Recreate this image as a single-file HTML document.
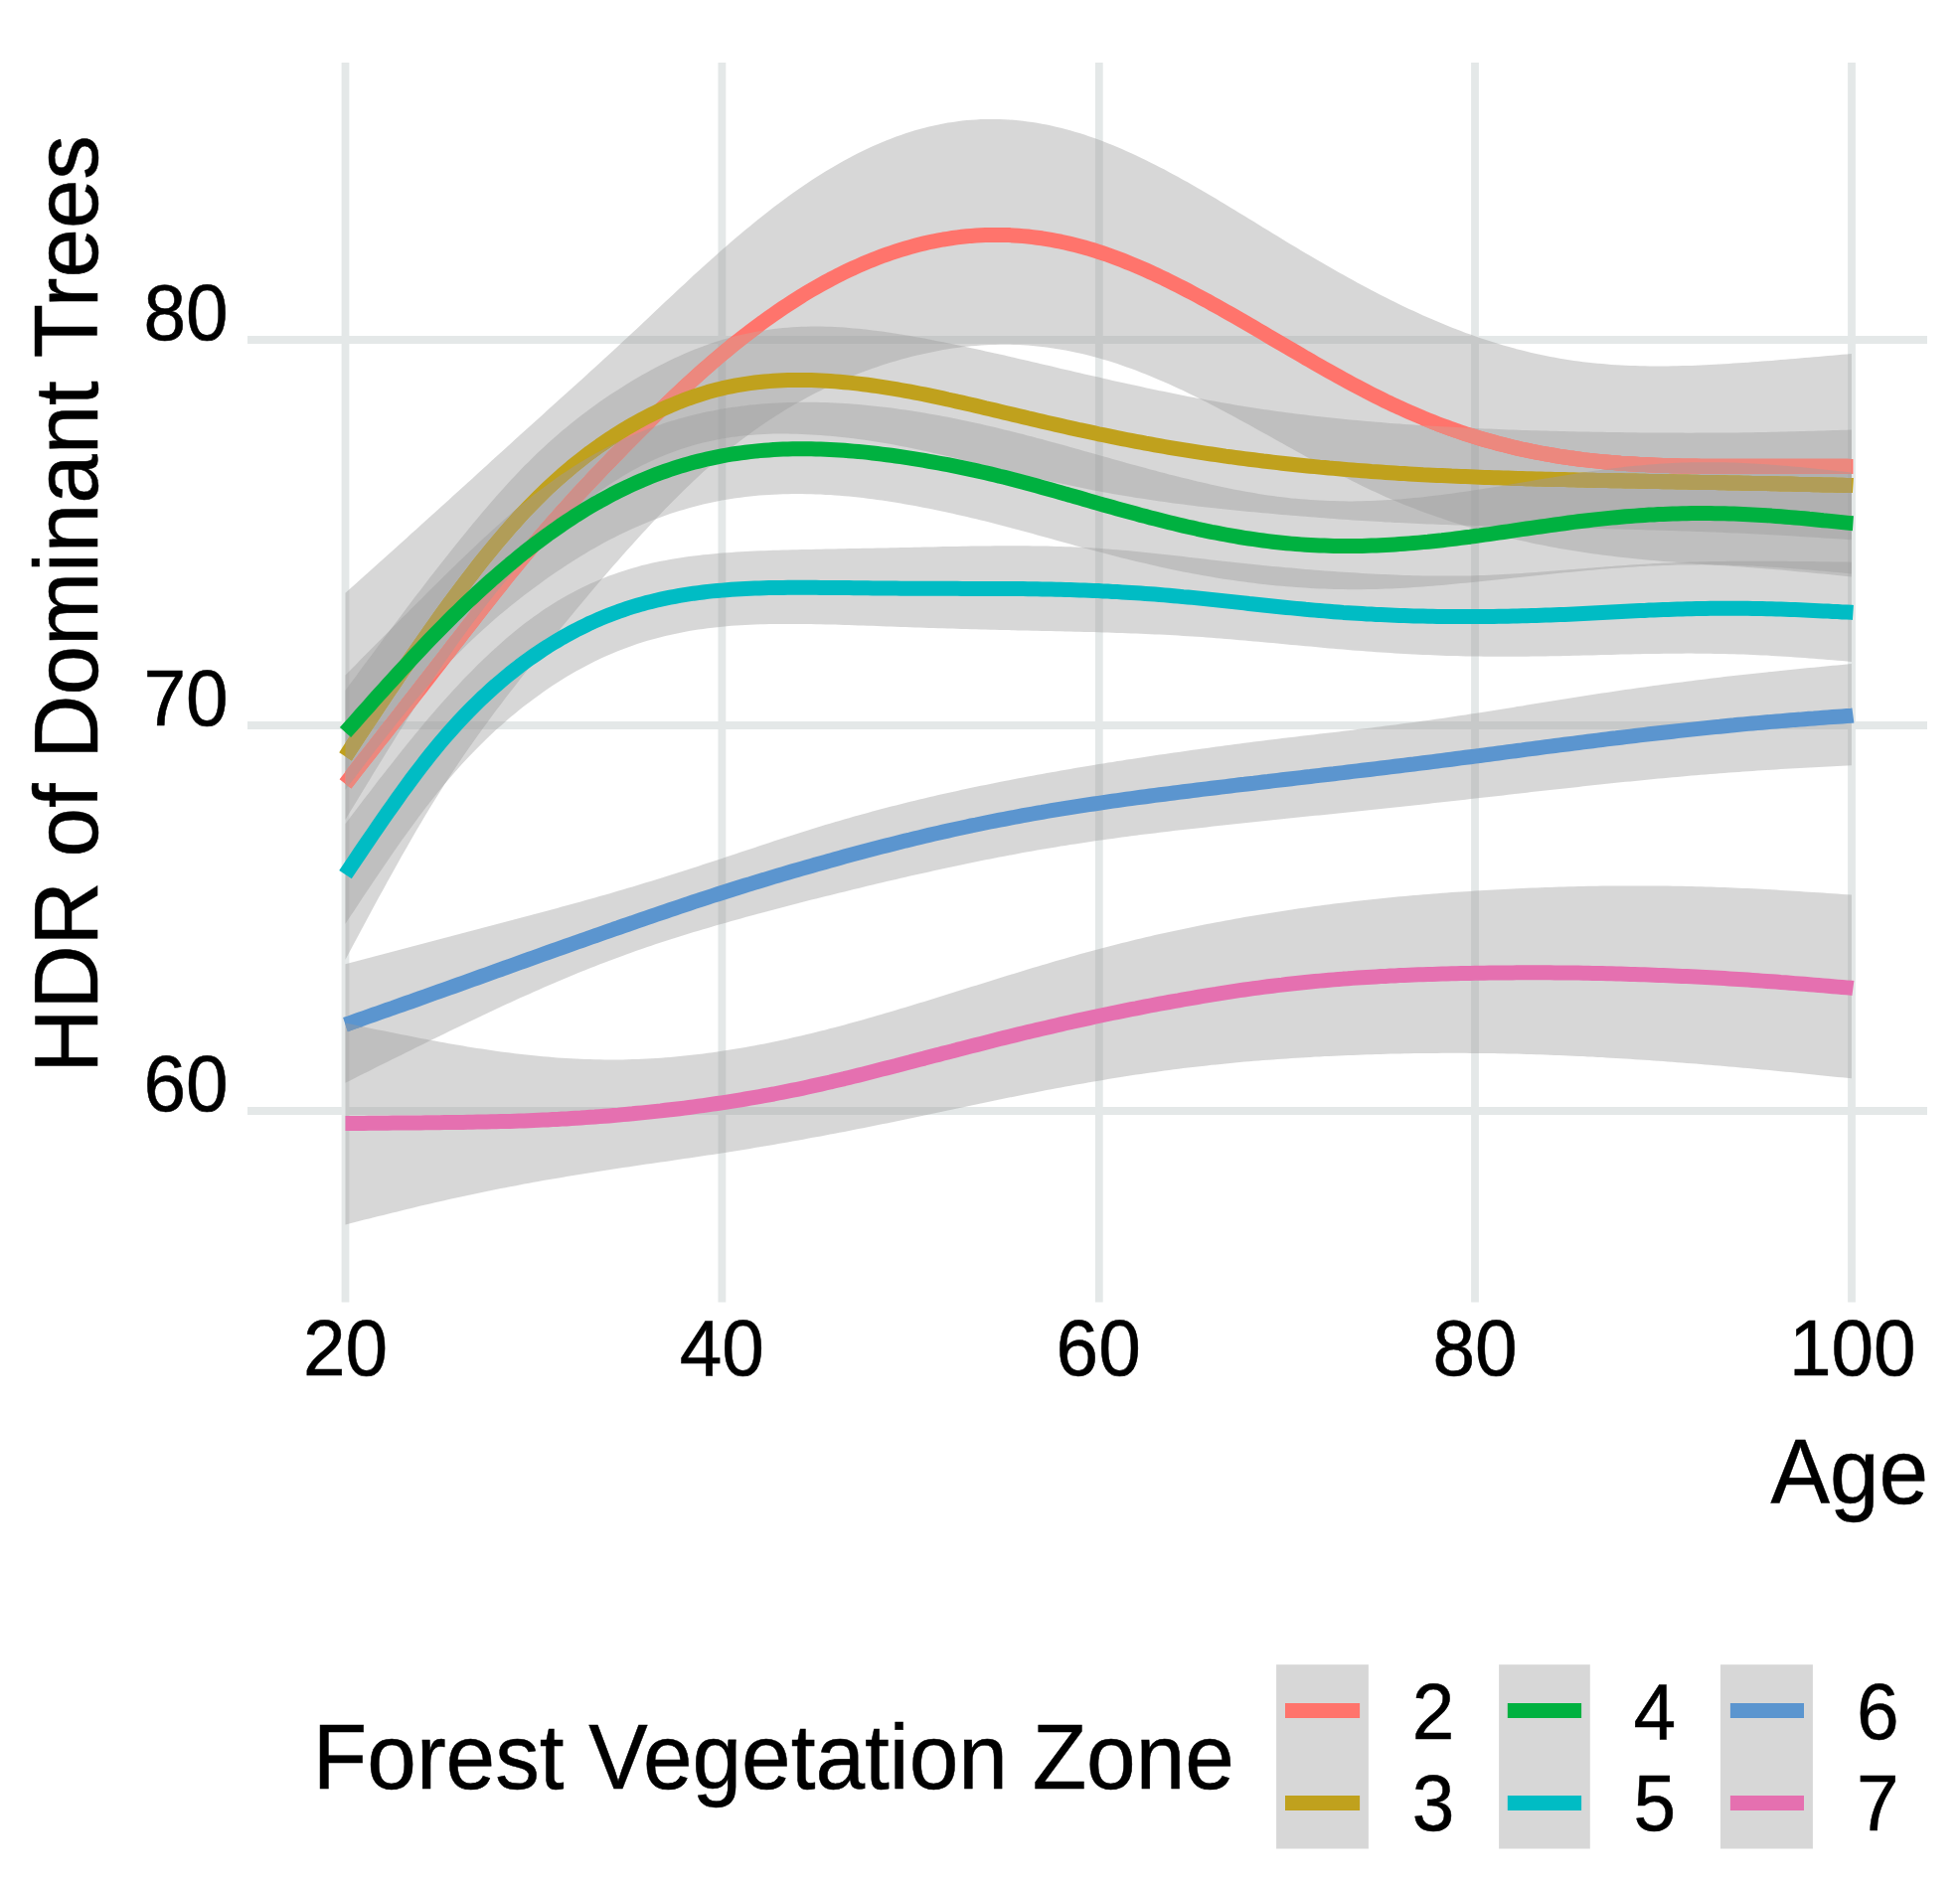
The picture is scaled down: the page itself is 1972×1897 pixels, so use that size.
<!DOCTYPE html>
<html lang="en"><head><meta charset="utf-8"><title>HDR of Dominant Trees by Age</title>
<style>html,body{margin:0;padding:0;background:#fff}svg{display:block}</style></head>
<body>
<svg width="1972" height="1897" viewBox="0 0 1972 1897">
<rect width="1972" height="1897" fill="#fff"/>
<g stroke="#E4E8E8" stroke-width="7.8" fill="none">
<line x1="249" y1="342.0" x2="1939" y2="342.0"/>
<line x1="249" y1="730.0" x2="1939" y2="730.0"/>
<line x1="249" y1="1118.0" x2="1939" y2="1118.0"/>
<line x1="347.5" y1="63" x2="347.5" y2="1310.6"/>
<line x1="726.4" y1="63" x2="726.4" y2="1310.6"/>
<line x1="1105.8" y1="63" x2="1105.8" y2="1310.6"/>
<line x1="1484.0" y1="63" x2="1484.0" y2="1310.6"/>
<line x1="1863.0" y1="63" x2="1863.0" y2="1310.6"/>
</g>
<defs>
<polygon id="Rred" points="347.5,596.7 352.2,592.5 357.0,588.2 361.7,584.0 366.4,579.7 371.2,575.5 375.9,571.2 380.6,567.0 385.4,562.7 390.1,558.5 394.9,554.2 399.6,549.9 404.3,545.7 409.1,541.4 413.8,537.1 418.5,532.9 423.3,528.6 428.0,524.3 432.7,520.0 437.5,515.8 442.2,511.5 446.9,507.2 451.7,502.9 456.4,498.6 461.2,494.3 465.9,490.0 470.6,485.7 475.4,481.4 480.1,477.1 484.8,472.8 489.6,468.5 494.3,464.1 499.0,459.8 503.8,455.5 508.5,451.2 513.2,446.9 518.0,442.6 522.7,438.3 527.4,434.0 532.2,429.7 536.9,425.4 541.7,421.2 546.4,416.9 551.1,412.6 555.9,408.3 560.6,404.1 565.3,399.8 570.1,395.5 574.8,391.2 579.5,386.9 584.3,382.7 589.0,378.4 593.7,374.0 598.5,369.7 603.2,365.4 608.0,361.1 612.7,356.7 617.4,352.4 622.2,348.0 626.9,343.6 631.6,339.2 636.4,334.8 641.1,330.4 645.8,325.9 650.6,321.5 655.3,317.0 660.0,312.6 664.8,308.1 669.5,303.6 674.2,299.2 679.0,294.7 683.7,290.3 688.5,285.9 693.2,281.5 697.9,277.1 702.7,272.8 707.4,268.5 712.1,264.2 716.9,259.9 721.6,255.7 726.3,251.5 731.1,247.4 735.8,243.3 740.5,239.2 745.3,235.2 750.0,231.3 754.8,227.4 759.5,223.5 764.2,219.7 769.0,215.9 773.7,212.2 778.4,208.6 783.2,205.0 787.9,201.5 792.6,198.0 797.4,194.6 802.1,191.3 806.8,188.0 811.6,184.8 816.3,181.6 821.0,178.6 825.8,175.6 830.5,172.6 835.3,169.8 840.0,167.0 844.7,164.3 849.5,161.6 854.2,159.0 858.9,156.5 863.7,154.1 868.4,151.8 873.1,149.5 877.9,147.3 882.6,145.2 887.3,143.2 892.1,141.3 896.8,139.4 901.6,137.6 906.3,135.9 911.0,134.3 915.8,132.8 920.5,131.3 925.2,130.0 930.0,128.7 934.7,127.5 939.4,126.4 944.2,125.4 948.9,124.5 953.6,123.6 958.4,122.9 963.1,122.2 967.9,121.6 972.6,121.1 977.3,120.7 982.1,120.4 986.8,120.1 991.5,120.0 996.3,119.9 1001.0,119.9 1005.7,120.0 1010.5,120.2 1015.2,120.5 1019.9,120.8 1024.7,121.3 1029.4,121.8 1034.1,122.4 1038.9,123.1 1043.6,123.8 1048.4,124.7 1053.1,125.6 1057.8,126.6 1062.6,127.7 1067.3,128.8 1072.0,130.0 1076.8,131.3 1081.5,132.7 1086.2,134.1 1091.0,135.6 1095.7,137.2 1100.4,138.8 1105.2,140.6 1109.9,142.3 1114.7,144.2 1119.4,146.1 1124.1,148.0 1128.9,150.1 1133.6,152.2 1138.3,154.3 1143.1,156.5 1147.8,158.7 1152.5,161.0 1157.3,163.4 1162.0,165.7 1166.7,168.2 1171.5,170.6 1176.2,173.2 1180.9,175.7 1185.7,178.3 1190.4,180.9 1195.2,183.6 1199.9,186.3 1204.6,189.0 1209.4,191.7 1214.1,194.5 1218.8,197.3 1223.6,200.1 1228.3,202.9 1233.0,205.8 1237.8,208.7 1242.5,211.5 1247.2,214.4 1252.0,217.3 1256.7,220.2 1261.5,223.1 1266.2,226.0 1270.9,228.9 1275.7,231.8 1280.4,234.7 1285.1,237.6 1289.9,240.5 1294.6,243.4 1299.3,246.2 1304.1,249.1 1308.8,251.9 1313.5,254.7 1318.3,257.5 1323.0,260.3 1327.7,263.1 1332.5,265.8 1337.2,268.5 1342.0,271.2 1346.7,273.9 1351.4,276.6 1356.2,279.2 1360.9,281.8 1365.6,284.4 1370.4,287.0 1375.1,289.5 1379.8,292.0 1384.6,294.5 1389.3,296.9 1394.0,299.3 1398.8,301.7 1403.5,304.1 1408.3,306.4 1413.0,308.7 1417.7,310.9 1422.5,313.1 1427.2,315.3 1431.9,317.4 1436.7,319.5 1441.4,321.6 1446.1,323.6 1450.9,325.6 1455.6,327.6 1460.3,329.5 1465.1,331.3 1469.8,333.1 1474.5,334.9 1479.3,336.6 1484.0,338.3 1488.8,340.0 1493.5,341.6 1498.2,343.1 1503.0,344.6 1507.7,346.1 1512.4,347.5 1517.2,348.8 1521.9,350.1 1526.6,351.4 1531.4,352.6 1536.1,353.8 1540.8,354.9 1545.6,356.0 1550.3,357.0 1555.1,358.0 1559.8,358.9 1564.5,359.8 1569.3,360.7 1574.0,361.5 1578.7,362.2 1583.5,362.9 1588.2,363.5 1592.9,364.2 1597.7,364.7 1602.4,365.2 1607.1,365.7 1611.9,366.1 1616.6,366.5 1621.3,366.9 1626.1,367.2 1630.8,367.5 1635.6,367.7 1640.3,367.9 1645.0,368.1 1649.8,368.2 1654.5,368.3 1659.2,368.4 1664.0,368.4 1668.7,368.5 1673.4,368.4 1678.2,368.4 1682.9,368.3 1687.6,368.3 1692.4,368.1 1697.1,368.0 1701.9,367.9 1706.6,367.7 1711.3,367.5 1716.1,367.3 1720.8,367.0 1725.5,366.8 1730.3,366.5 1735.0,366.2 1739.7,365.9 1744.5,365.6 1749.2,365.3 1753.9,365.0 1758.7,364.7 1763.4,364.3 1768.2,364.0 1772.9,363.6 1777.6,363.2 1782.4,362.9 1787.1,362.5 1791.8,362.1 1796.6,361.7 1801.3,361.3 1806.0,360.9 1810.8,360.5 1815.5,360.1 1820.2,359.7 1825.0,359.3 1829.7,358.9 1834.4,358.5 1839.2,358.1 1843.9,357.7 1848.7,357.3 1853.4,356.8 1858.1,356.4 1862.9,356.0 1862.9,580.5 1858.1,580.0 1853.4,579.5 1848.7,579.1 1843.9,578.6 1839.2,578.1 1834.4,577.6 1829.7,577.2 1825.0,576.7 1820.2,576.3 1815.5,575.8 1810.8,575.4 1806.0,574.9 1801.3,574.5 1796.6,574.1 1791.8,573.6 1787.1,573.2 1782.4,572.8 1777.6,572.4 1772.9,572.0 1768.2,571.7 1763.4,571.3 1758.7,571.0 1753.9,570.6 1749.2,570.3 1744.5,569.9 1739.7,569.6 1735.0,569.3 1730.3,569.0 1725.5,568.7 1720.8,568.3 1716.1,568.0 1711.3,567.7 1706.6,567.4 1701.9,567.0 1697.1,566.7 1692.4,566.4 1687.6,566.0 1682.9,565.6 1678.2,565.3 1673.4,564.9 1668.7,564.5 1664.0,564.1 1659.2,563.7 1654.5,563.2 1649.8,562.8 1645.0,562.3 1640.3,561.8 1635.6,561.3 1630.8,560.8 1626.1,560.2 1621.3,559.6 1616.6,559.1 1611.9,558.5 1607.1,557.8 1602.4,557.2 1597.7,556.5 1592.9,555.8 1588.2,555.1 1583.5,554.3 1578.7,553.5 1574.0,552.7 1569.3,551.9 1564.5,551.1 1559.8,550.2 1555.1,549.3 1550.3,548.3 1545.6,547.4 1540.8,546.4 1536.1,545.3 1531.4,544.3 1526.6,543.2 1521.9,542.1 1517.2,541.0 1512.4,539.8 1507.7,538.6 1503.0,537.4 1498.2,536.1 1493.5,534.8 1488.8,533.5 1484.0,532.2 1479.3,530.8 1474.5,529.4 1469.8,527.9 1465.1,526.5 1460.3,525.0 1455.6,523.4 1450.9,521.8 1446.1,520.2 1441.4,518.6 1436.7,516.9 1431.9,515.2 1427.2,513.4 1422.5,511.6 1417.7,509.7 1413.0,507.9 1408.3,505.9 1403.5,504.0 1398.8,501.9 1394.0,499.9 1389.3,497.8 1384.6,495.6 1379.8,493.4 1375.1,491.2 1370.4,488.9 1365.6,486.6 1360.9,484.2 1356.2,481.8 1351.4,479.4 1346.7,477.0 1342.0,474.5 1337.2,472.0 1332.5,469.5 1327.7,466.9 1323.0,464.4 1318.3,461.8 1313.5,459.2 1308.8,456.6 1304.1,454.0 1299.3,451.3 1294.6,448.7 1289.9,446.1 1285.1,443.4 1280.4,440.8 1275.7,438.1 1270.9,435.5 1266.2,432.9 1261.5,430.2 1256.7,427.6 1252.0,425.0 1247.2,422.4 1242.5,419.8 1237.8,417.3 1233.0,414.7 1228.3,412.2 1223.6,409.7 1218.8,407.3 1214.1,404.8 1209.4,402.4 1204.6,400.0 1199.9,397.7 1195.2,395.4 1190.4,393.1 1185.7,390.9 1180.9,388.7 1176.2,386.6 1171.5,384.5 1166.7,382.4 1162.0,380.4 1157.3,378.4 1152.5,376.5 1147.8,374.7 1143.1,372.8 1138.3,371.1 1133.6,369.4 1128.9,367.7 1124.1,366.1 1119.4,364.6 1114.7,363.1 1109.9,361.7 1105.2,360.3 1100.4,359.0 1095.7,357.8 1091.0,356.6 1086.2,355.5 1081.5,354.5 1076.8,353.5 1072.0,352.6 1067.3,351.7 1062.6,351.0 1057.8,350.2 1053.1,349.6 1048.4,349.0 1043.6,348.5 1038.9,348.0 1034.1,347.6 1029.4,347.3 1024.7,347.1 1019.9,346.9 1015.2,346.8 1010.5,346.7 1005.7,346.8 1001.0,346.9 996.3,347.0 991.5,347.2 986.8,347.5 982.1,347.9 977.3,348.3 972.6,348.8 967.9,349.3 963.1,349.9 958.4,350.6 953.6,351.3 948.9,352.1 944.2,353.0 939.4,353.9 934.7,354.9 930.0,355.9 925.2,357.0 920.5,358.1 915.8,359.3 911.0,360.5 906.3,361.8 901.6,363.2 896.8,364.6 892.1,366.1 887.3,367.6 882.6,369.2 877.9,370.8 873.1,372.5 868.4,374.3 863.7,376.1 858.9,378.0 854.2,380.0 849.5,382.0 844.7,384.0 840.0,386.2 835.3,388.4 830.5,390.6 825.8,392.9 821.0,395.3 816.3,397.8 811.6,400.3 806.8,402.9 802.1,405.6 797.4,408.3 792.6,411.1 787.9,414.0 783.2,416.9 778.4,419.9 773.7,423.0 769.0,426.2 764.2,429.5 759.5,432.8 754.8,436.2 750.0,439.7 745.3,443.3 740.5,447.0 735.8,450.7 731.1,454.6 726.3,458.5 721.6,462.5 716.9,466.7 712.1,470.9 707.4,475.1 702.7,479.5 697.9,484.0 693.2,488.5 688.5,493.1 683.7,497.7 679.0,502.5 674.2,507.3 669.5,512.1 664.8,517.0 660.0,522.0 655.3,527.1 650.6,532.2 645.8,537.3 641.1,542.5 636.4,547.7 631.6,553.0 626.9,558.3 622.2,563.7 617.4,569.1 612.7,574.6 608.0,580.1 603.2,585.6 598.5,591.1 593.7,596.7 589.0,602.4 584.3,608.0 579.5,613.7 574.8,619.5 570.1,625.2 565.3,631.0 560.6,636.8 555.9,642.7 551.1,648.5 546.4,654.4 541.7,660.3 536.9,666.3 532.2,672.3 527.4,678.3 522.7,684.3 518.0,690.4 513.2,696.5 508.5,702.6 503.8,708.9 499.0,715.1 494.3,721.5 489.6,727.9 484.8,734.4 480.1,741.0 475.4,747.7 470.6,754.5 465.9,761.3 461.2,768.3 456.4,775.4 451.7,782.6 446.9,789.9 442.2,797.4 437.5,805.0 432.7,812.7 428.0,820.5 423.3,828.5 418.5,836.6 413.8,844.7 409.1,853.0 404.3,861.3 399.6,869.7 394.9,878.2 390.1,886.8 385.4,895.4 380.6,904.1 375.9,912.8 371.2,921.6 366.4,930.4 361.7,939.2 357.0,948.1 352.2,956.9 347.5,965.8"/>
<polyline id="Lred" points="347.5,788.8 352.2,782.8 357.0,776.7 361.7,770.7 366.4,764.7 371.2,758.6 375.9,752.6 380.6,746.5 385.4,740.5 390.1,734.4 394.9,728.4 399.6,722.3 404.3,716.3 409.1,710.2 413.8,704.1 418.5,698.1 423.3,692.0 428.0,685.9 432.7,679.8 437.5,673.7 442.2,667.6 446.9,661.5 451.7,655.3 456.4,649.2 461.2,643.1 465.9,637.0 470.6,630.9 475.4,624.8 480.1,618.7 484.8,612.6 489.6,606.6 494.3,600.6 499.0,594.6 503.8,588.7 508.5,582.7 513.2,576.9 518.0,571.0 522.7,565.2 527.4,559.5 532.2,553.8 536.9,548.2 541.7,542.6 546.4,537.1 551.1,531.6 555.9,526.2 560.6,520.8 565.3,515.5 570.1,510.2 574.8,505.0 579.5,499.8 584.3,494.7 589.0,489.6 593.7,484.6 598.5,479.5 603.2,474.6 608.0,469.6 612.7,464.7 617.4,459.8 622.2,454.9 626.9,450.1 631.6,445.3 636.4,440.5 641.1,435.8 645.8,431.0 650.6,426.3 655.3,421.7 660.0,417.0 664.8,412.4 669.5,407.8 674.2,403.3 679.0,398.8 683.7,394.3 688.5,389.9 693.2,385.5 697.9,381.2 702.7,376.9 707.4,372.7 712.1,368.6 716.9,364.4 721.6,360.4 726.3,356.4 731.1,352.4 735.8,348.5 740.5,344.7 745.3,340.9 750.0,337.2 754.8,333.6 759.5,330.0 764.2,326.5 769.0,323.0 773.7,319.6 778.4,316.3 783.2,313.0 787.9,309.8 792.6,306.7 797.4,303.6 802.1,300.6 806.8,297.6 811.6,294.7 816.3,291.9 821.0,289.2 825.8,286.5 830.5,283.9 835.3,281.3 840.0,278.9 844.7,276.4 849.5,274.1 854.2,271.8 858.9,269.6 863.7,267.5 868.4,265.4 873.1,263.4 877.9,261.5 882.6,259.6 887.3,257.8 892.1,256.1 896.8,254.5 901.6,252.9 906.3,251.4 911.0,250.0 915.8,248.6 920.5,247.3 925.2,246.1 930.0,244.9 934.7,243.8 939.4,242.8 944.2,241.9 948.9,241.0 953.6,240.3 958.4,239.5 963.1,238.9 967.9,238.3 972.6,237.8 977.3,237.4 982.1,237.1 986.8,236.8 991.5,236.6 996.3,236.4 1001.0,236.4 1005.7,236.4 1010.5,236.5 1015.2,236.6 1019.9,236.9 1024.7,237.2 1029.4,237.6 1034.1,238.0 1038.9,238.6 1043.6,239.2 1048.4,239.8 1053.1,240.6 1057.8,241.4 1062.6,242.3 1067.3,243.2 1072.0,244.3 1076.8,245.4 1081.5,246.5 1086.2,247.7 1091.0,249.0 1095.7,250.4 1100.4,251.8 1105.2,253.3 1109.9,254.9 1114.7,256.5 1119.4,258.2 1124.1,260.0 1128.9,261.8 1133.6,263.7 1138.3,265.6 1143.1,267.6 1147.8,269.6 1152.5,271.7 1157.3,273.9 1162.0,276.0 1166.7,278.3 1171.5,280.5 1176.2,282.9 1180.9,285.2 1185.7,287.6 1190.4,290.0 1195.2,292.5 1199.9,295.0 1204.6,297.5 1209.4,300.1 1214.1,302.6 1218.8,305.3 1223.6,307.9 1228.3,310.5 1233.0,313.2 1237.8,315.9 1242.5,318.6 1247.2,321.3 1252.0,324.1 1256.7,326.8 1261.5,329.6 1266.2,332.4 1270.9,335.1 1275.7,337.9 1280.4,340.7 1285.1,343.5 1289.9,346.3 1294.6,349.0 1299.3,351.8 1304.1,354.6 1308.8,357.3 1313.5,360.1 1318.3,362.8 1323.0,365.6 1327.7,368.3 1332.5,371.0 1337.2,373.6 1342.0,376.3 1346.7,378.9 1351.4,381.5 1356.2,384.1 1360.9,386.7 1365.6,389.2 1370.4,391.7 1375.1,394.2 1379.8,396.6 1384.6,399.0 1389.3,401.3 1394.0,403.7 1398.8,405.9 1403.5,408.2 1408.3,410.3 1413.0,412.5 1417.7,414.6 1422.5,416.7 1427.2,418.7 1431.9,420.7 1436.7,422.6 1441.4,424.5 1446.1,426.4 1450.9,428.2 1455.6,429.9 1460.3,431.7 1465.1,433.3 1469.8,435.0 1474.5,436.6 1479.3,438.1 1484.0,439.6 1488.8,441.1 1493.5,442.5 1498.2,443.8 1503.0,445.1 1507.7,446.4 1512.4,447.6 1517.2,448.8 1521.9,450.0 1526.6,451.1 1531.4,452.2 1536.1,453.2 1540.8,454.2 1545.6,455.1 1550.3,456.0 1555.1,456.9 1559.8,457.7 1564.5,458.5 1569.3,459.3 1574.0,460.0 1578.7,460.7 1583.5,461.3 1588.2,462.0 1592.9,462.6 1597.7,463.1 1602.4,463.6 1607.1,464.1 1611.9,464.6 1616.6,465.0 1621.3,465.4 1626.1,465.8 1630.8,466.2 1635.6,466.5 1640.3,466.8 1645.0,467.1 1649.8,467.4 1654.5,467.6 1659.2,467.8 1664.0,468.0 1668.7,468.2 1673.4,468.4 1678.2,468.5 1682.9,468.7 1687.6,468.8 1692.4,468.9 1697.1,469.0 1701.9,469.0 1706.6,469.1 1711.3,469.2 1716.1,469.2 1720.8,469.2 1725.5,469.3 1730.3,469.3 1735.0,469.3 1739.7,469.3 1744.5,469.3 1749.2,469.3 1753.9,469.3 1758.7,469.3 1763.4,469.3 1768.2,469.3 1772.9,469.3 1777.6,469.3 1782.4,469.3 1787.1,469.3 1791.8,469.3 1796.6,469.3 1801.3,469.3 1806.0,469.3 1810.8,469.3 1815.5,469.3 1820.2,469.3 1825.0,469.3 1829.7,469.3 1834.4,469.3 1839.2,469.3 1843.9,469.3 1848.7,469.3 1853.4,469.3 1858.1,469.3 1862.9,469.4 1864.4,469.4" fill="none" stroke-width="15" stroke-linejoin="round"/>
<clipPath id="cred"><use href="#Rred"/></clipPath>
<polygon id="Rgold" points="347.5,694.7 352.2,688.3 357.0,681.9 361.7,675.5 366.4,669.1 371.2,662.7 375.9,656.4 380.6,650.0 385.4,643.6 390.1,637.3 394.9,631.0 399.6,624.7 404.3,618.4 409.1,612.1 413.8,605.8 418.5,599.6 423.3,593.4 428.0,587.3 432.7,581.1 437.5,575.0 442.2,568.9 446.9,562.9 451.7,556.9 456.4,550.9 461.2,545.0 465.9,539.2 470.6,533.4 475.4,527.6 480.1,521.9 484.8,516.3 489.6,510.7 494.3,505.2 499.0,499.8 503.8,494.5 508.5,489.2 513.2,484.1 518.0,479.0 522.7,474.0 527.4,469.1 532.2,464.4 536.9,459.7 541.7,455.1 546.4,450.7 551.1,446.3 555.9,442.0 560.6,437.9 565.3,433.8 570.1,429.9 574.8,426.0 579.5,422.2 584.3,418.5 589.0,414.9 593.7,411.4 598.5,408.0 603.2,404.6 608.0,401.3 612.7,398.1 617.4,395.0 622.2,391.9 626.9,388.9 631.6,386.0 636.4,383.1 641.1,380.3 645.8,377.6 650.6,374.9 655.3,372.3 660.0,369.8 664.8,367.3 669.5,364.9 674.2,362.6 679.0,360.3 683.7,358.2 688.5,356.1 693.2,354.0 697.9,352.1 702.7,350.2 707.4,348.4 712.1,346.7 716.9,345.1 721.6,343.5 726.3,342.0 731.1,340.7 735.8,339.4 740.5,338.1 745.3,337.0 750.0,335.9 754.8,334.9 759.5,334.0 764.2,333.2 769.0,332.4 773.7,331.7 778.4,331.1 783.2,330.6 787.9,330.1 792.6,329.7 797.4,329.3 802.1,329.0 806.8,328.8 811.6,328.7 816.3,328.6 821.0,328.6 825.8,328.6 830.5,328.7 835.3,328.8 840.0,329.0 844.7,329.3 849.5,329.6 854.2,330.0 858.9,330.4 863.7,330.8 868.4,331.3 873.1,331.8 877.9,332.4 882.6,333.0 887.3,333.6 892.1,334.3 896.8,335.0 901.6,335.7 906.3,336.5 911.0,337.3 915.8,338.1 920.5,338.9 925.2,339.8 930.0,340.6 934.7,341.5 939.4,342.4 944.2,343.4 948.9,344.3 953.6,345.3 958.4,346.2 963.1,347.2 967.9,348.2 972.6,349.2 977.3,350.2 982.1,351.3 986.8,352.3 991.5,353.4 996.3,354.4 1001.0,355.5 1005.7,356.6 1010.5,357.6 1015.2,358.7 1019.9,359.8 1024.7,360.9 1029.4,362.0 1034.1,363.1 1038.9,364.2 1043.6,365.3 1048.4,366.4 1053.1,367.5 1057.8,368.6 1062.6,369.8 1067.3,370.9 1072.0,372.0 1076.8,373.1 1081.5,374.2 1086.2,375.3 1091.0,376.4 1095.7,377.5 1100.4,378.6 1105.2,379.6 1109.9,380.7 1114.7,381.8 1119.4,382.9 1124.1,383.9 1128.9,385.0 1133.6,386.0 1138.3,387.1 1143.1,388.1 1147.8,389.1 1152.5,390.2 1157.3,391.2 1162.0,392.2 1166.7,393.2 1171.5,394.1 1176.2,395.1 1180.9,396.1 1185.7,397.0 1190.4,397.9 1195.2,398.9 1199.9,399.8 1204.6,400.7 1209.4,401.6 1214.1,402.4 1218.8,403.3 1223.6,404.1 1228.3,405.0 1233.0,405.8 1237.8,406.6 1242.5,407.4 1247.2,408.2 1252.0,409.0 1256.7,409.7 1261.5,410.4 1266.2,411.2 1270.9,411.9 1275.7,412.6 1280.4,413.3 1285.1,413.9 1289.9,414.6 1294.6,415.2 1299.3,415.8 1304.1,416.4 1308.8,417.0 1313.5,417.6 1318.3,418.2 1323.0,418.7 1327.7,419.3 1332.5,419.8 1337.2,420.3 1342.0,420.8 1346.7,421.3 1351.4,421.7 1356.2,422.2 1360.9,422.7 1365.6,423.1 1370.4,423.5 1375.1,423.9 1379.8,424.3 1384.6,424.7 1389.3,425.1 1394.0,425.5 1398.8,425.9 1403.5,426.2 1408.3,426.6 1413.0,426.9 1417.7,427.2 1422.5,427.6 1427.2,427.9 1431.9,428.2 1436.7,428.5 1441.4,428.8 1446.1,429.0 1450.9,429.3 1455.6,429.6 1460.3,429.8 1465.1,430.1 1469.8,430.3 1474.5,430.6 1479.3,430.8 1484.0,431.0 1488.8,431.2 1493.5,431.4 1498.2,431.6 1503.0,431.8 1507.7,432.0 1512.4,432.2 1517.2,432.4 1521.9,432.5 1526.6,432.7 1531.4,432.9 1536.1,433.0 1540.8,433.2 1545.6,433.3 1550.3,433.4 1555.1,433.6 1559.8,433.7 1564.5,433.8 1569.3,433.9 1574.0,434.1 1578.7,434.2 1583.5,434.3 1588.2,434.4 1592.9,434.5 1597.7,434.6 1602.4,434.7 1607.1,434.8 1611.9,434.8 1616.6,434.9 1621.3,435.0 1626.1,435.1 1630.8,435.1 1635.6,435.2 1640.3,435.3 1645.0,435.3 1649.8,435.4 1654.5,435.4 1659.2,435.5 1664.0,435.5 1668.7,435.5 1673.4,435.6 1678.2,435.6 1682.9,435.6 1687.6,435.6 1692.4,435.6 1697.1,435.7 1701.9,435.7 1706.6,435.6 1711.3,435.6 1716.1,435.6 1720.8,435.6 1725.5,435.6 1730.3,435.5 1735.0,435.5 1739.7,435.5 1744.5,435.4 1749.2,435.4 1753.9,435.3 1758.7,435.2 1763.4,435.2 1768.2,435.1 1772.9,435.0 1777.6,434.9 1782.4,434.8 1787.1,434.7 1791.8,434.6 1796.6,434.5 1801.3,434.3 1806.0,434.2 1810.8,434.1 1815.5,434.0 1820.2,433.8 1825.0,433.7 1829.7,433.6 1834.4,433.4 1839.2,433.3 1843.9,433.1 1848.7,433.0 1853.4,432.8 1858.1,432.7 1862.9,432.5 1862.9,543.2 1858.1,542.9 1853.4,542.6 1848.7,542.3 1843.9,542.0 1839.2,541.7 1834.4,541.4 1829.7,541.1 1825.0,540.8 1820.2,540.5 1815.5,540.2 1810.8,539.9 1806.0,539.6 1801.3,539.3 1796.6,539.1 1791.8,538.8 1787.1,538.5 1782.4,538.3 1777.6,538.0 1772.9,537.8 1768.2,537.5 1763.4,537.3 1758.7,537.1 1753.9,536.8 1749.2,536.6 1744.5,536.4 1739.7,536.2 1735.0,536.0 1730.3,535.8 1725.5,535.6 1720.8,535.5 1716.1,535.3 1711.3,535.1 1706.6,534.9 1701.9,534.8 1697.1,534.6 1692.4,534.4 1687.6,534.3 1682.9,534.1 1678.2,534.0 1673.4,533.8 1668.7,533.7 1664.0,533.5 1659.2,533.4 1654.5,533.2 1649.8,533.1 1645.0,533.0 1640.3,532.8 1635.6,532.7 1630.8,532.6 1626.1,532.4 1621.3,532.3 1616.6,532.2 1611.9,532.1 1607.1,531.9 1602.4,531.8 1597.7,531.7 1592.9,531.6 1588.2,531.5 1583.5,531.4 1578.7,531.2 1574.0,531.1 1569.3,531.0 1564.5,530.9 1559.8,530.8 1555.1,530.7 1550.3,530.6 1545.6,530.5 1540.8,530.4 1536.1,530.3 1531.4,530.2 1526.6,530.1 1521.9,529.9 1517.2,529.8 1512.4,529.7 1507.7,529.6 1503.0,529.5 1498.2,529.4 1493.5,529.2 1488.8,529.1 1484.0,529.0 1479.3,528.8 1474.5,528.7 1469.8,528.5 1465.1,528.4 1460.3,528.2 1455.6,528.1 1450.9,527.9 1446.1,527.7 1441.4,527.6 1436.7,527.4 1431.9,527.2 1427.2,527.0 1422.5,526.8 1417.7,526.6 1413.0,526.3 1408.3,526.1 1403.5,525.9 1398.8,525.6 1394.0,525.4 1389.3,525.1 1384.6,524.8 1379.8,524.6 1375.1,524.3 1370.4,524.0 1365.6,523.7 1360.9,523.4 1356.2,523.0 1351.4,522.7 1346.7,522.4 1342.0,522.0 1337.2,521.7 1332.5,521.3 1327.7,521.0 1323.0,520.6 1318.3,520.2 1313.5,519.8 1308.8,519.5 1304.1,519.1 1299.3,518.7 1294.6,518.3 1289.9,517.9 1285.1,517.5 1280.4,517.1 1275.7,516.6 1270.9,516.2 1266.2,515.8 1261.5,515.3 1256.7,514.9 1252.0,514.4 1247.2,514.0 1242.5,513.5 1237.8,513.0 1233.0,512.5 1228.3,512.0 1223.6,511.5 1218.8,511.0 1214.1,510.5 1209.4,509.9 1204.6,509.4 1199.9,508.8 1195.2,508.2 1190.4,507.6 1185.7,507.0 1180.9,506.4 1176.2,505.8 1171.5,505.1 1166.7,504.4 1162.0,503.8 1157.3,503.1 1152.5,502.3 1147.8,501.6 1143.1,500.9 1138.3,500.1 1133.6,499.3 1128.9,498.5 1124.1,497.7 1119.4,496.9 1114.7,496.0 1109.9,495.2 1105.2,494.3 1100.4,493.4 1095.7,492.4 1091.0,491.5 1086.2,490.5 1081.5,489.6 1076.8,488.6 1072.0,487.6 1067.3,486.5 1062.6,485.5 1057.8,484.5 1053.1,483.4 1048.4,482.3 1043.6,481.2 1038.9,480.1 1034.1,479.0 1029.4,477.9 1024.7,476.8 1019.9,475.6 1015.2,474.5 1010.5,473.3 1005.7,472.1 1001.0,470.9 996.3,469.8 991.5,468.6 986.8,467.4 982.1,466.2 977.3,465.0 972.6,463.8 967.9,462.7 963.1,461.5 958.4,460.3 953.6,459.2 948.9,458.1 944.2,457.0 939.4,455.9 934.7,454.8 930.0,453.7 925.2,452.7 920.5,451.7 915.8,450.7 911.0,449.8 906.3,448.9 901.6,448.0 896.8,447.1 892.1,446.3 887.3,445.5 882.6,444.7 877.9,444.0 873.1,443.3 868.4,442.6 863.7,442.0 858.9,441.3 854.2,440.8 849.5,440.2 844.7,439.7 840.0,439.3 835.3,438.8 830.5,438.4 825.8,438.0 821.0,437.7 816.3,437.4 811.6,437.2 806.8,437.0 802.1,436.8 797.4,436.7 792.6,436.6 787.9,436.5 783.2,436.6 778.4,436.6 773.7,436.8 769.0,437.0 764.2,437.2 759.5,437.5 754.8,437.9 750.0,438.3 745.3,438.8 740.5,439.4 735.8,440.1 731.1,440.8 726.3,441.6 721.6,442.5 716.9,443.4 712.1,444.5 707.4,445.6 702.7,446.8 697.9,448.1 693.2,449.5 688.5,451.0 683.7,452.5 679.0,454.2 674.2,455.9 669.5,457.8 664.8,459.7 660.0,461.8 655.3,463.9 650.6,466.2 645.8,468.5 641.1,471.0 636.4,473.5 631.6,476.2 626.9,479.0 622.2,481.9 617.4,484.9 612.7,488.0 608.0,491.2 603.2,494.5 598.5,498.0 593.7,501.5 589.0,505.2 584.3,509.0 579.5,512.9 574.8,516.9 570.1,521.0 565.3,525.2 560.6,529.6 555.9,534.0 551.1,538.6 546.4,543.3 541.7,548.1 536.9,553.1 532.2,558.1 527.4,563.3 522.7,568.6 518.0,574.0 513.2,579.5 508.5,585.1 503.8,590.8 499.0,596.6 494.3,602.5 489.6,608.6 484.8,614.7 480.1,620.9 475.4,627.3 470.6,633.7 465.9,640.2 461.2,646.8 456.4,653.5 451.7,660.3 446.9,667.1 442.2,674.1 437.5,681.1 432.7,688.2 428.0,695.4 423.3,702.7 418.5,710.0 413.8,717.4 409.1,724.8 404.3,732.3 399.6,739.8 394.9,747.4 390.1,755.0 385.4,762.7 380.6,770.4 375.9,778.1 371.2,785.9 366.4,793.7 361.7,801.4 357.0,809.2 352.2,817.1 347.5,824.9"/>
<polyline id="Lgold" points="347.5,761.3 352.2,754.1 357.0,746.9 361.7,739.7 366.4,732.6 371.2,725.4 375.9,718.3 380.6,711.1 385.4,704.0 390.1,696.9 394.9,689.9 399.6,682.8 404.3,675.9 409.1,668.9 413.8,662.0 418.5,655.1 423.3,648.2 428.0,641.5 432.7,634.7 437.5,628.0 442.2,621.4 446.9,614.8 451.7,608.3 456.4,601.9 461.2,595.5 465.9,589.2 470.6,583.0 475.4,576.8 480.1,570.7 484.8,564.7 489.6,558.8 494.3,553.0 499.0,547.3 503.8,541.7 508.5,536.1 513.2,530.7 518.0,525.4 522.7,520.1 527.4,515.0 532.2,510.0 536.9,505.2 541.7,500.4 546.4,495.7 551.1,491.2 555.9,486.8 560.6,482.5 565.3,478.3 570.1,474.2 574.8,470.2 579.5,466.4 584.3,462.6 589.0,458.9 593.7,455.3 598.5,451.9 603.2,448.5 608.0,445.2 612.7,442.0 617.4,438.9 622.2,435.9 626.9,433.0 631.6,430.1 636.4,427.4 641.1,424.7 645.8,422.1 650.6,419.6 655.3,417.2 660.0,414.9 664.8,412.6 669.5,410.4 674.2,408.3 679.0,406.3 683.7,404.4 688.5,402.6 693.2,400.8 697.9,399.2 702.7,397.6 707.4,396.1 712.1,394.6 716.9,393.3 721.6,392.1 726.3,390.9 731.1,389.8 735.8,388.8 740.5,387.9 745.3,387.1 750.0,386.3 754.8,385.6 759.5,385.0 764.2,384.5 769.0,384.0 773.7,383.6 778.4,383.2 783.2,383.0 787.9,382.7 792.6,382.6 797.4,382.5 802.1,382.4 806.8,382.5 811.6,382.5 816.3,382.6 821.0,382.8 825.8,383.0 830.5,383.2 835.3,383.5 840.0,383.9 844.7,384.2 849.5,384.7 854.2,385.1 858.9,385.6 863.7,386.1 868.4,386.7 873.1,387.3 877.9,388.0 882.6,388.6 887.3,389.3 892.1,390.1 896.8,390.8 901.6,391.6 906.3,392.5 911.0,393.3 915.8,394.2 920.5,395.1 925.2,396.0 930.0,396.9 934.7,397.9 939.4,398.9 944.2,399.9 948.9,400.9 953.6,402.0 958.4,403.0 963.1,404.1 967.9,405.1 972.6,406.2 977.3,407.3 982.1,408.4 986.8,409.5 991.5,410.7 996.3,411.8 1001.0,412.9 1005.7,414.0 1010.5,415.2 1015.2,416.3 1019.9,417.4 1024.7,418.5 1029.4,419.6 1034.1,420.8 1038.9,421.9 1043.6,423.0 1048.4,424.1 1053.1,425.2 1057.8,426.3 1062.6,427.4 1067.3,428.4 1072.0,429.5 1076.8,430.6 1081.5,431.6 1086.2,432.7 1091.0,433.7 1095.7,434.7 1100.4,435.7 1105.2,436.8 1109.9,437.7 1114.7,438.7 1119.4,439.7 1124.1,440.6 1128.9,441.6 1133.6,442.5 1138.3,443.4 1143.1,444.3 1147.8,445.2 1152.5,446.1 1157.3,446.9 1162.0,447.8 1166.7,448.6 1171.5,449.5 1176.2,450.3 1180.9,451.1 1185.7,451.9 1190.4,452.6 1195.2,453.4 1199.9,454.2 1204.6,454.9 1209.4,455.6 1214.1,456.3 1218.8,457.0 1223.6,457.7 1228.3,458.4 1233.0,459.1 1237.8,459.7 1242.5,460.4 1247.2,461.0 1252.0,461.6 1256.7,462.2 1261.5,462.8 1266.2,463.4 1270.9,464.0 1275.7,464.5 1280.4,465.1 1285.1,465.6 1289.9,466.2 1294.6,466.7 1299.3,467.2 1304.1,467.7 1308.8,468.2 1313.5,468.7 1318.3,469.2 1323.0,469.6 1327.7,470.1 1332.5,470.5 1337.2,471.0 1342.0,471.4 1346.7,471.8 1351.4,472.2 1356.2,472.6 1360.9,473.0 1365.6,473.4 1370.4,473.8 1375.1,474.1 1379.8,474.5 1384.6,474.8 1389.3,475.1 1394.0,475.4 1398.8,475.8 1403.5,476.1 1408.3,476.4 1413.0,476.6 1417.7,476.9 1422.5,477.2 1427.2,477.4 1431.9,477.7 1436.7,477.9 1441.4,478.2 1446.1,478.4 1450.9,478.6 1455.6,478.8 1460.3,479.1 1465.1,479.3 1469.8,479.5 1474.5,479.6 1479.3,479.8 1484.0,480.0 1488.8,480.2 1493.5,480.4 1498.2,480.5 1503.0,480.7 1507.7,480.8 1512.4,481.0 1517.2,481.1 1521.9,481.3 1526.6,481.4 1531.4,481.5 1536.1,481.7 1540.8,481.8 1545.6,481.9 1550.3,482.1 1555.1,482.2 1559.8,482.3 1564.5,482.4 1569.3,482.5 1574.0,482.6 1578.7,482.7 1583.5,482.8 1588.2,482.9 1592.9,483.1 1597.7,483.2 1602.4,483.3 1607.1,483.4 1611.9,483.5 1616.6,483.6 1621.3,483.7 1626.1,483.7 1630.8,483.8 1635.6,483.9 1640.3,484.0 1645.0,484.1 1649.8,484.2 1654.5,484.3 1659.2,484.4 1664.0,484.5 1668.7,484.6 1673.4,484.7 1678.2,484.8 1682.9,484.8 1687.6,484.9 1692.4,485.0 1697.1,485.1 1701.9,485.2 1706.6,485.3 1711.3,485.4 1716.1,485.4 1720.8,485.5 1725.5,485.6 1730.3,485.7 1735.0,485.8 1739.7,485.9 1744.5,486.0 1749.2,486.1 1753.9,486.2 1758.7,486.3 1763.4,486.4 1768.2,486.4 1772.9,486.5 1777.6,486.6 1782.4,486.7 1787.1,486.8 1791.8,486.9 1796.6,487.0 1801.3,487.1 1806.0,487.3 1810.8,487.4 1815.5,487.5 1820.2,487.6 1825.0,487.7 1829.7,487.8 1834.4,487.9 1839.2,488.0 1843.9,488.1 1848.7,488.2 1853.4,488.3 1858.1,488.4 1862.9,488.5 1864.4,488.6" fill="none" stroke-width="15" stroke-linejoin="round"/>
<clipPath id="cgold"><use href="#Rgold"/></clipPath>
<polygon id="Rgreen" points="347.5,679.5 352.2,674.7 357.0,669.9 361.7,665.1 366.4,660.3 371.2,655.5 375.9,650.7 380.6,646.0 385.4,641.2 390.1,636.4 394.9,631.6 399.6,626.9 404.3,622.1 409.1,617.4 413.8,612.6 418.5,607.9 423.3,603.2 428.0,598.5 432.7,593.8 437.5,589.1 442.2,584.4 446.9,579.7 451.7,575.1 456.4,570.5 461.2,565.8 465.9,561.3 470.6,556.7 475.4,552.2 480.1,547.7 484.8,543.3 489.6,538.9 494.3,534.5 499.0,530.2 503.8,526.0 508.5,521.8 513.2,517.7 518.0,513.6 522.7,509.6 527.4,505.7 532.2,501.9 536.9,498.1 541.7,494.5 546.4,490.9 551.1,487.4 555.9,483.9 560.6,480.6 565.3,477.3 570.1,474.2 574.8,471.1 579.5,468.1 584.3,465.1 589.0,462.3 593.7,459.5 598.5,456.8 603.2,454.2 608.0,451.7 612.7,449.2 617.4,446.8 622.2,444.5 626.9,442.3 631.6,440.1 636.4,438.1 641.1,436.1 645.8,434.2 650.6,432.3 655.3,430.5 660.0,428.8 664.8,427.2 669.5,425.6 674.2,424.1 679.0,422.7 683.7,421.3 688.5,420.0 693.2,418.7 697.9,417.5 702.7,416.4 707.4,415.3 712.1,414.3 716.9,413.4 721.6,412.5 726.3,411.6 731.1,410.8 735.8,410.1 740.5,409.4 745.3,408.8 750.0,408.2 754.8,407.6 759.5,407.2 764.2,406.7 769.0,406.3 773.7,406.0 778.4,405.7 783.2,405.4 787.9,405.2 792.6,405.0 797.4,404.9 802.1,404.8 806.8,404.7 811.6,404.7 816.3,404.8 821.0,404.8 825.8,404.9 830.5,405.1 835.3,405.3 840.0,405.5 844.7,405.7 849.5,406.0 854.2,406.3 858.9,406.7 863.7,407.1 868.4,407.5 873.1,407.9 877.9,408.4 882.6,408.9 887.3,409.5 892.1,410.0 896.8,410.6 901.6,411.3 906.3,411.9 911.0,412.6 915.8,413.3 920.5,414.0 925.2,414.8 930.0,415.6 934.7,416.4 939.4,417.2 944.2,418.1 948.9,418.9 953.6,419.8 958.4,420.8 963.1,421.7 967.9,422.7 972.6,423.7 977.3,424.7 982.1,425.7 986.8,426.8 991.5,427.9 996.3,429.0 1001.0,430.1 1005.7,431.2 1010.5,432.4 1015.2,433.5 1019.9,434.7 1024.7,435.9 1029.4,437.1 1034.1,438.4 1038.9,439.6 1043.6,440.9 1048.4,442.1 1053.1,443.4 1057.8,444.7 1062.6,446.0 1067.3,447.3 1072.0,448.6 1076.8,449.9 1081.5,451.3 1086.2,452.6 1091.0,453.9 1095.7,455.3 1100.4,456.6 1105.2,457.9 1109.9,459.3 1114.7,460.6 1119.4,461.9 1124.1,463.3 1128.9,464.6 1133.6,465.9 1138.3,467.2 1143.1,468.5 1147.8,469.8 1152.5,471.1 1157.3,472.4 1162.0,473.6 1166.7,474.9 1171.5,476.1 1176.2,477.4 1180.9,478.6 1185.7,479.8 1190.4,481.0 1195.2,482.1 1199.9,483.3 1204.6,484.4 1209.4,485.5 1214.1,486.6 1218.8,487.7 1223.6,488.7 1228.3,489.8 1233.0,490.8 1237.8,491.7 1242.5,492.7 1247.2,493.6 1252.0,494.5 1256.7,495.3 1261.5,496.1 1266.2,496.9 1270.9,497.7 1275.7,498.4 1280.4,499.0 1285.1,499.7 1289.9,500.3 1294.6,500.8 1299.3,501.4 1304.1,501.8 1308.8,502.3 1313.5,502.6 1318.3,503.0 1323.0,503.3 1327.7,503.6 1332.5,503.8 1337.2,504.0 1342.0,504.1 1346.7,504.3 1351.4,504.3 1356.2,504.4 1360.9,504.4 1365.6,504.3 1370.4,504.3 1375.1,504.1 1379.8,504.0 1384.6,503.8 1389.3,503.6 1394.0,503.3 1398.8,503.0 1403.5,502.7 1408.3,502.4 1413.0,502.0 1417.7,501.6 1422.5,501.1 1427.2,500.7 1431.9,500.2 1436.7,499.6 1441.4,499.1 1446.1,498.5 1450.9,497.9 1455.6,497.3 1460.3,496.7 1465.1,496.0 1469.8,495.3 1474.5,494.7 1479.3,493.9 1484.0,493.2 1488.8,492.5 1493.5,491.7 1498.2,491.0 1503.0,490.2 1507.7,489.5 1512.4,488.7 1517.2,487.9 1521.9,487.1 1526.6,486.3 1531.4,485.5 1536.1,484.7 1540.8,483.9 1545.6,483.1 1550.3,482.3 1555.1,481.5 1559.8,480.7 1564.5,479.9 1569.3,479.2 1574.0,478.4 1578.7,477.7 1583.5,476.9 1588.2,476.2 1592.9,475.5 1597.7,474.8 1602.4,474.1 1607.1,473.4 1611.9,472.8 1616.6,472.1 1621.3,471.5 1626.1,470.9 1630.8,470.4 1635.6,469.8 1640.3,469.3 1645.0,468.8 1649.8,468.4 1654.5,467.9 1659.2,467.5 1664.0,467.2 1668.7,466.8 1673.4,466.5 1678.2,466.2 1682.9,466.0 1687.6,465.8 1692.4,465.6 1697.1,465.4 1701.9,465.3 1706.6,465.2 1711.3,465.2 1716.1,465.2 1720.8,465.2 1725.5,465.2 1730.3,465.3 1735.0,465.3 1739.7,465.5 1744.5,465.6 1749.2,465.8 1753.9,466.0 1758.7,466.2 1763.4,466.4 1768.2,466.7 1772.9,467.0 1777.6,467.3 1782.4,467.7 1787.1,468.0 1791.8,468.4 1796.6,468.8 1801.3,469.2 1806.0,469.7 1810.8,470.1 1815.5,470.6 1820.2,471.0 1825.0,471.5 1829.7,472.0 1834.4,472.5 1839.2,473.0 1843.9,473.5 1848.7,474.1 1853.4,474.6 1858.1,475.1 1862.9,475.6 1862.9,577.4 1858.1,577.0 1853.4,576.6 1848.7,576.1 1843.9,575.7 1839.2,575.2 1834.4,574.8 1829.7,574.4 1825.0,574.0 1820.2,573.6 1815.5,573.2 1810.8,572.8 1806.0,572.4 1801.3,572.0 1796.6,571.7 1791.8,571.3 1787.1,571.0 1782.4,570.7 1777.6,570.4 1772.9,570.1 1768.2,569.9 1763.4,569.6 1758.7,569.4 1753.9,569.2 1749.2,569.0 1744.5,568.9 1739.7,568.7 1735.0,568.6 1730.3,568.5 1725.5,568.4 1720.8,568.4 1716.1,568.4 1711.3,568.3 1706.6,568.4 1701.9,568.4 1697.1,568.4 1692.4,568.5 1687.6,568.6 1682.9,568.7 1678.2,568.9 1673.4,569.0 1668.7,569.2 1664.0,569.4 1659.2,569.6 1654.5,569.9 1649.8,570.1 1645.0,570.4 1640.3,570.7 1635.6,571.0 1630.8,571.4 1626.1,571.7 1621.3,572.1 1616.6,572.5 1611.9,572.8 1607.1,573.2 1602.4,573.7 1597.7,574.1 1592.9,574.5 1588.2,575.0 1583.5,575.4 1578.7,575.9 1574.0,576.3 1569.3,576.8 1564.5,577.3 1559.8,577.8 1555.1,578.3 1550.3,578.7 1545.6,579.2 1540.8,579.7 1536.1,580.2 1531.4,580.7 1526.6,581.3 1521.9,581.8 1517.2,582.3 1512.4,582.8 1507.7,583.3 1503.0,583.8 1498.2,584.3 1493.5,584.8 1488.8,585.2 1484.0,585.7 1479.3,586.2 1474.5,586.7 1469.8,587.1 1465.1,587.6 1460.3,588.0 1455.6,588.5 1450.9,588.9 1446.1,589.3 1441.4,589.7 1436.7,590.1 1431.9,590.5 1427.2,590.8 1422.5,591.1 1417.7,591.4 1413.0,591.7 1408.3,592.0 1403.5,592.2 1398.8,592.5 1394.0,592.6 1389.3,592.8 1384.6,592.9 1379.8,593.0 1375.1,593.1 1370.4,593.2 1365.6,593.2 1360.9,593.2 1356.2,593.2 1351.4,593.1 1346.7,593.0 1342.0,592.9 1337.2,592.7 1332.5,592.6 1327.7,592.4 1323.0,592.2 1318.3,591.9 1313.5,591.6 1308.8,591.3 1304.1,591.0 1299.3,590.6 1294.6,590.2 1289.9,589.8 1285.1,589.4 1280.4,588.9 1275.7,588.4 1270.9,587.9 1266.2,587.4 1261.5,586.8 1256.7,586.2 1252.0,585.6 1247.2,585.0 1242.5,584.3 1237.8,583.6 1233.0,582.9 1228.3,582.2 1223.6,581.4 1218.8,580.6 1214.1,579.8 1209.4,578.9 1204.6,578.1 1199.9,577.2 1195.2,576.3 1190.4,575.4 1185.7,574.4 1180.9,573.4 1176.2,572.4 1171.5,571.4 1166.7,570.4 1162.0,569.3 1157.3,568.2 1152.5,567.1 1147.8,566.0 1143.1,564.9 1138.3,563.7 1133.6,562.6 1128.9,561.4 1124.1,560.2 1119.4,559.0 1114.7,557.8 1109.9,556.5 1105.2,555.3 1100.4,554.0 1095.7,552.8 1091.0,551.5 1086.2,550.2 1081.5,548.9 1076.8,547.6 1072.0,546.3 1067.3,545.0 1062.6,543.7 1057.8,542.3 1053.1,541.0 1048.4,539.7 1043.6,538.4 1038.9,537.1 1034.1,535.8 1029.4,534.5 1024.7,533.3 1019.9,532.0 1015.2,530.7 1010.5,529.5 1005.7,528.2 1001.0,527.0 996.3,525.8 991.5,524.6 986.8,523.5 982.1,522.3 977.3,521.2 972.6,520.0 967.9,518.9 963.1,517.9 958.4,516.8 953.6,515.8 948.9,514.7 944.2,513.7 939.4,512.7 934.7,511.8 930.0,510.9 925.2,509.9 920.5,509.1 915.8,508.2 911.0,507.4 906.3,506.6 901.6,505.8 896.8,505.0 892.1,504.3 887.3,503.6 882.6,502.9 877.9,502.3 873.1,501.7 868.4,501.1 863.7,500.6 858.9,500.1 854.2,499.6 849.5,499.2 844.7,498.8 840.0,498.5 835.3,498.1 830.5,497.9 825.8,497.6 821.0,497.4 816.3,497.3 811.6,497.2 806.8,497.1 802.1,497.1 797.4,497.1 792.6,497.2 787.9,497.3 783.2,497.4 778.4,497.7 773.7,497.9 769.0,498.2 764.2,498.6 759.5,499.0 754.8,499.5 750.0,500.1 745.3,500.7 740.5,501.3 735.8,502.0 731.1,502.8 726.3,503.6 721.6,504.5 716.9,505.5 712.1,506.5 707.4,507.6 702.7,508.8 697.9,510.0 693.2,511.3 688.5,512.7 683.7,514.1 679.0,515.6 674.2,517.1 669.5,518.7 664.8,520.4 660.0,522.2 655.3,524.0 650.6,525.9 645.8,527.9 641.1,529.9 636.4,532.0 631.6,534.2 626.9,536.4 622.2,538.8 617.4,541.2 612.7,543.6 608.0,546.1 603.2,548.7 598.5,551.4 593.7,554.1 589.0,556.9 584.3,559.8 579.5,562.7 574.8,565.7 570.1,568.8 565.3,571.9 560.6,575.1 555.9,578.3 551.1,581.6 546.4,585.0 541.7,588.4 536.9,591.9 532.2,595.5 527.4,599.1 522.7,602.7 518.0,606.5 513.2,610.3 508.5,614.2 503.8,618.1 499.0,622.1 494.3,626.3 489.6,630.4 484.8,634.7 480.1,639.1 475.4,643.5 470.6,648.0 465.9,652.7 461.2,657.4 456.4,662.2 451.7,667.1 446.9,672.1 442.2,677.2 437.5,682.5 432.7,687.8 428.0,693.2 423.3,698.7 418.5,704.3 413.8,710.0 409.1,715.7 404.3,721.6 399.6,727.4 394.9,733.4 390.1,739.4 385.4,745.4 380.6,751.5 375.9,757.6 371.2,763.8 366.4,770.0 361.7,776.2 357.0,782.4 352.2,788.6 347.5,794.8"/>
<polyline id="Lgreen" points="347.5,737.1 352.2,731.8 357.0,726.4 361.7,721.1 366.4,715.8 371.2,710.4 375.9,705.1 380.6,699.8 385.4,694.6 390.1,689.3 394.9,684.1 399.6,678.9 404.3,673.7 409.1,668.6 413.8,663.5 418.5,658.4 423.3,653.3 428.0,648.4 432.7,643.4 437.5,638.5 442.2,633.7 446.9,628.9 451.7,624.1 456.4,619.4 461.2,614.8 465.9,610.2 470.6,605.7 475.4,601.2 480.1,596.8 484.8,592.5 489.6,588.2 494.3,583.9 499.0,579.8 503.8,575.6 508.5,571.6 513.2,567.6 518.0,563.7 522.7,559.8 527.4,556.0 532.2,552.3 536.9,548.6 541.7,545.0 546.4,541.5 551.1,538.0 555.9,534.6 560.6,531.3 565.3,528.0 570.1,524.8 574.8,521.7 579.5,518.6 584.3,515.6 589.0,512.7 593.7,509.9 598.5,507.1 603.2,504.4 608.0,501.8 612.7,499.2 617.4,496.7 622.2,494.3 626.9,492.0 631.6,489.7 636.4,487.5 641.1,485.4 645.8,483.3 650.6,481.3 655.3,479.4 660.0,477.6 664.8,475.8 669.5,474.1 674.2,472.5 679.0,470.9 683.7,469.4 688.5,468.0 693.2,466.6 697.9,465.3 702.7,464.1 707.4,462.9 712.1,461.8 716.9,460.8 721.6,459.8 726.3,458.9 731.1,458.0 735.8,457.2 740.5,456.5 745.3,455.8 750.0,455.2 754.8,454.6 759.5,454.1 764.2,453.6 769.0,453.2 773.7,452.9 778.4,452.5 783.2,452.3 787.9,452.1 792.6,451.9 797.4,451.8 802.1,451.7 806.8,451.7 811.6,451.7 816.3,451.8 821.0,451.9 825.8,452.0 830.5,452.2 835.3,452.4 840.0,452.7 844.7,453.0 849.5,453.3 854.2,453.7 858.9,454.1 863.7,454.5 868.4,454.9 873.1,455.4 877.9,456.0 882.6,456.5 887.3,457.1 892.1,457.7 896.8,458.3 901.6,459.0 906.3,459.7 911.0,460.4 915.8,461.1 920.5,461.9 925.2,462.6 930.0,463.4 934.7,464.3 939.4,465.1 944.2,466.0 948.9,466.8 953.6,467.7 958.4,468.7 963.1,469.6 967.9,470.6 972.6,471.6 977.3,472.6 982.1,473.6 986.8,474.7 991.5,475.8 996.3,476.9 1001.0,478.0 1005.7,479.2 1010.5,480.3 1015.2,481.5 1019.9,482.7 1024.7,484.0 1029.4,485.2 1034.1,486.5 1038.9,487.8 1043.6,489.1 1048.4,490.4 1053.1,491.7 1057.8,493.0 1062.6,494.4 1067.3,495.7 1072.0,497.1 1076.8,498.4 1081.5,499.8 1086.2,501.1 1091.0,502.5 1095.7,503.9 1100.4,505.2 1105.2,506.6 1109.9,507.9 1114.7,509.3 1119.4,510.6 1124.1,511.9 1128.9,513.2 1133.6,514.5 1138.3,515.8 1143.1,517.1 1147.8,518.4 1152.5,519.6 1157.3,520.9 1162.0,522.1 1166.7,523.3 1171.5,524.5 1176.2,525.7 1180.9,526.8 1185.7,528.0 1190.4,529.1 1195.2,530.2 1199.9,531.2 1204.6,532.3 1209.4,533.3 1214.1,534.3 1218.8,535.3 1223.6,536.2 1228.3,537.1 1233.0,538.0 1237.8,538.9 1242.5,539.7 1247.2,540.5 1252.0,541.3 1256.7,542.0 1261.5,542.7 1266.2,543.4 1270.9,544.0 1275.7,544.6 1280.4,545.2 1285.1,545.7 1289.9,546.2 1294.6,546.7 1299.3,547.1 1304.1,547.5 1308.8,547.9 1313.5,548.2 1318.3,548.5 1323.0,548.7 1327.7,549.0 1332.5,549.1 1337.2,549.3 1342.0,549.4 1346.7,549.5 1351.4,549.5 1356.2,549.5 1360.9,549.5 1365.6,549.5 1370.4,549.4 1375.1,549.3 1379.8,549.1 1384.6,548.9 1389.3,548.7 1394.0,548.5 1398.8,548.2 1403.5,547.9 1408.3,547.6 1413.0,547.3 1417.7,546.9 1422.5,546.5 1427.2,546.1 1431.9,545.6 1436.7,545.2 1441.4,544.7 1446.1,544.2 1450.9,543.7 1455.6,543.1 1460.3,542.6 1465.1,542.0 1469.8,541.4 1474.5,540.8 1479.3,540.2 1484.0,539.5 1488.8,538.9 1493.5,538.2 1498.2,537.6 1503.0,536.9 1507.7,536.2 1512.4,535.5 1517.2,534.8 1521.9,534.1 1526.6,533.4 1531.4,532.7 1536.1,532.0 1540.8,531.3 1545.6,530.6 1550.3,530.0 1555.1,529.3 1559.8,528.6 1564.5,528.0 1569.3,527.3 1574.0,526.7 1578.7,526.0 1583.5,525.4 1588.2,524.8 1592.9,524.3 1597.7,523.7 1602.4,523.1 1607.1,522.6 1611.9,522.1 1616.6,521.6 1621.3,521.1 1626.1,520.7 1630.8,520.3 1635.6,519.8 1640.3,519.5 1645.0,519.1 1649.8,518.7 1654.5,518.4 1659.2,518.1 1664.0,517.9 1668.7,517.6 1673.4,517.4 1678.2,517.2 1682.9,517.0 1687.6,516.9 1692.4,516.8 1697.1,516.7 1701.9,516.6 1706.6,516.6 1711.3,516.6 1716.1,516.6 1720.8,516.6 1725.5,516.7 1730.3,516.7 1735.0,516.8 1739.7,517.0 1744.5,517.1 1749.2,517.3 1753.9,517.5 1758.7,517.7 1763.4,517.9 1768.2,518.2 1772.9,518.5 1777.6,518.8 1782.4,519.1 1787.1,519.5 1791.8,519.8 1796.6,520.2 1801.3,520.6 1806.0,521.0 1810.8,521.4 1815.5,521.8 1820.2,522.3 1825.0,522.7 1829.7,523.2 1834.4,523.7 1839.2,524.1 1843.9,524.6 1848.7,525.1 1853.4,525.6 1858.1,526.1 1862.9,526.6 1864.4,526.7" fill="none" stroke-width="15" stroke-linejoin="round"/>
<clipPath id="cgreen"><use href="#Rgreen"/></clipPath>
<polygon id="Rcyan" points="347.5,828.9 352.2,822.7 357.0,816.5 361.7,810.3 366.4,804.1 371.2,797.9 375.9,791.8 380.6,785.6 385.4,779.5 390.1,773.5 394.9,767.4 399.6,761.5 404.3,755.5 409.1,749.6 413.8,743.8 418.5,738.0 423.3,732.3 428.0,726.6 432.7,721.0 437.5,715.5 442.2,710.1 446.9,704.7 451.7,699.4 456.4,694.3 461.2,689.2 465.9,684.1 470.6,679.2 475.4,674.4 480.1,669.6 484.8,665.0 489.6,660.5 494.3,656.0 499.0,651.7 503.8,647.4 508.5,643.3 513.2,639.2 518.0,635.3 522.7,631.5 527.4,627.8 532.2,624.2 536.9,620.7 541.7,617.4 546.4,614.1 551.1,611.0 555.9,607.9 560.6,605.0 565.3,602.2 570.1,599.5 574.8,596.9 579.5,594.4 584.3,592.0 589.0,589.7 593.7,587.5 598.5,585.4 603.2,583.4 608.0,581.5 612.7,579.6 617.4,577.9 622.2,576.2 626.9,574.7 631.6,573.2 636.4,571.7 641.1,570.4 645.8,569.1 650.6,567.9 655.3,566.8 660.0,565.8 664.8,564.8 669.5,563.9 674.2,563.0 679.0,562.2 683.7,561.4 688.5,560.7 693.2,560.1 697.9,559.4 702.7,558.9 707.4,558.3 712.1,557.9 716.9,557.4 721.6,557.0 726.3,556.6 731.1,556.2 735.8,555.9 740.5,555.6 745.3,555.3 750.0,555.0 754.8,554.8 759.5,554.6 764.2,554.3 769.0,554.2 773.7,554.0 778.4,553.8 783.2,553.7 787.9,553.5 792.6,553.4 797.4,553.3 802.1,553.2 806.8,553.1 811.6,553.0 816.3,552.9 821.0,552.8 825.8,552.7 830.5,552.6 835.3,552.5 840.0,552.4 844.7,552.3 849.5,552.2 854.2,552.1 858.9,552.0 863.7,551.9 868.4,551.8 873.1,551.8 877.9,551.7 882.6,551.6 887.3,551.5 892.1,551.4 896.8,551.3 901.6,551.2 906.3,551.1 911.0,551.0 915.8,550.9 920.5,550.8 925.2,550.7 930.0,550.6 934.7,550.5 939.4,550.4 944.2,550.2 948.9,550.1 953.6,550.1 958.4,550.0 963.1,549.9 967.9,549.8 972.6,549.7 977.3,549.6 982.1,549.6 986.8,549.5 991.5,549.4 996.3,549.4 1001.0,549.3 1005.7,549.3 1010.5,549.3 1015.2,549.3 1019.9,549.3 1024.7,549.3 1029.4,549.3 1034.1,549.3 1038.9,549.4 1043.6,549.5 1048.4,549.5 1053.1,549.6 1057.8,549.7 1062.6,549.9 1067.3,550.0 1072.0,550.2 1076.8,550.3 1081.5,550.5 1086.2,550.7 1091.0,551.0 1095.7,551.2 1100.4,551.5 1105.2,551.8 1109.9,552.2 1114.7,552.5 1119.4,552.9 1124.1,553.3 1128.9,553.7 1133.6,554.1 1138.3,554.6 1143.1,555.0 1147.8,555.5 1152.5,556.0 1157.3,556.5 1162.0,557.0 1166.7,557.5 1171.5,558.0 1176.2,558.5 1180.9,559.1 1185.7,559.6 1190.4,560.1 1195.2,560.7 1199.9,561.2 1204.6,561.7 1209.4,562.3 1214.1,562.8 1218.8,563.4 1223.6,563.9 1228.3,564.4 1233.0,564.9 1237.8,565.5 1242.5,566.0 1247.2,566.5 1252.0,567.0 1256.7,567.5 1261.5,568.0 1266.2,568.5 1270.9,568.9 1275.7,569.4 1280.4,569.9 1285.1,570.3 1289.9,570.8 1294.6,571.2 1299.3,571.6 1304.1,572.1 1308.8,572.5 1313.5,572.9 1318.3,573.3 1323.0,573.7 1327.7,574.0 1332.5,574.4 1337.2,574.7 1342.0,575.1 1346.7,575.4 1351.4,575.7 1356.2,576.0 1360.9,576.3 1365.6,576.6 1370.4,576.9 1375.1,577.2 1379.8,577.4 1384.6,577.7 1389.3,577.9 1394.0,578.1 1398.8,578.3 1403.5,578.5 1408.3,578.7 1413.0,578.9 1417.7,579.0 1422.5,579.2 1427.2,579.3 1431.9,579.4 1436.7,579.5 1441.4,579.5 1446.1,579.6 1450.9,579.6 1455.6,579.6 1460.3,579.6 1465.1,579.6 1469.8,579.6 1474.5,579.5 1479.3,579.4 1484.0,579.3 1488.8,579.1 1493.5,578.9 1498.2,578.8 1503.0,578.5 1507.7,578.3 1512.4,578.1 1517.2,577.8 1521.9,577.5 1526.6,577.2 1531.4,576.9 1536.1,576.6 1540.8,576.3 1545.6,575.9 1550.3,575.6 1555.1,575.2 1559.8,574.8 1564.5,574.5 1569.3,574.1 1574.0,573.7 1578.7,573.3 1583.5,572.9 1588.2,572.6 1592.9,572.2 1597.7,571.8 1602.4,571.4 1607.1,571.0 1611.9,570.7 1616.6,570.3 1621.3,570.0 1626.1,569.6 1630.8,569.3 1635.6,568.9 1640.3,568.6 1645.0,568.3 1649.8,568.0 1654.5,567.7 1659.2,567.4 1664.0,567.1 1668.7,566.9 1673.4,566.6 1678.2,566.4 1682.9,566.2 1687.6,566.0 1692.4,565.9 1697.1,565.7 1701.9,565.6 1706.6,565.4 1711.3,565.3 1716.1,565.2 1720.8,565.1 1725.5,565.0 1730.3,564.9 1735.0,564.9 1739.7,564.8 1744.5,564.8 1749.2,564.7 1753.9,564.7 1758.7,564.7 1763.4,564.7 1768.2,564.7 1772.9,564.7 1777.6,564.7 1782.4,564.7 1787.1,564.8 1791.8,564.8 1796.6,564.8 1801.3,564.9 1806.0,564.9 1810.8,565.0 1815.5,565.0 1820.2,565.1 1825.0,565.1 1829.7,565.2 1834.4,565.2 1839.2,565.3 1843.9,565.4 1848.7,565.5 1853.4,565.5 1858.1,565.6 1862.9,565.7 1862.9,665.9 1858.1,665.5 1853.4,665.1 1848.7,664.7 1843.9,664.3 1839.2,663.9 1834.4,663.5 1829.7,663.2 1825.0,662.8 1820.2,662.4 1815.5,662.1 1810.8,661.7 1806.0,661.4 1801.3,661.1 1796.6,660.8 1791.8,660.5 1787.1,660.2 1782.4,659.9 1777.6,659.6 1772.9,659.4 1768.2,659.2 1763.4,659.0 1758.7,658.8 1753.9,658.6 1749.2,658.4 1744.5,658.3 1739.7,658.2 1735.0,658.0 1730.3,657.9 1725.5,657.9 1720.8,657.8 1716.1,657.7 1711.3,657.7 1706.6,657.7 1701.9,657.6 1697.1,657.6 1692.4,657.7 1687.6,657.7 1682.9,657.7 1678.2,657.7 1673.4,657.8 1668.7,657.9 1664.0,657.9 1659.2,658.0 1654.5,658.1 1649.8,658.2 1645.0,658.3 1640.3,658.4 1635.6,658.5 1630.8,658.6 1626.1,658.7 1621.3,658.9 1616.6,659.0 1611.9,659.1 1607.1,659.2 1602.4,659.4 1597.7,659.5 1592.9,659.6 1588.2,659.7 1583.5,659.8 1578.7,660.0 1574.0,660.1 1569.3,660.2 1564.5,660.2 1559.8,660.3 1555.1,660.4 1550.3,660.5 1545.6,660.6 1540.8,660.6 1536.1,660.7 1531.4,660.7 1526.6,660.7 1521.9,660.8 1517.2,660.8 1512.4,660.8 1507.7,660.8 1503.0,660.7 1498.2,660.7 1493.5,660.7 1488.8,660.6 1484.0,660.5 1479.3,660.5 1474.5,660.4 1469.8,660.3 1465.1,660.1 1460.3,660.0 1455.6,659.9 1450.9,659.7 1446.1,659.5 1441.4,659.3 1436.7,659.1 1431.9,658.9 1427.2,658.7 1422.5,658.5 1417.7,658.2 1413.0,658.0 1408.3,657.7 1403.5,657.4 1398.8,657.1 1394.0,656.8 1389.3,656.5 1384.6,656.2 1379.8,655.8 1375.1,655.5 1370.4,655.1 1365.6,654.7 1360.9,654.4 1356.2,654.0 1351.4,653.6 1346.7,653.2 1342.0,652.8 1337.2,652.4 1332.5,651.9 1327.7,651.5 1323.0,651.1 1318.3,650.6 1313.5,650.2 1308.8,649.8 1304.1,649.3 1299.3,648.9 1294.6,648.5 1289.9,648.0 1285.1,647.6 1280.4,647.1 1275.7,646.7 1270.9,646.3 1266.2,645.8 1261.5,645.4 1256.7,645.0 1252.0,644.6 1247.2,644.2 1242.5,643.7 1237.8,643.3 1233.0,643.0 1228.3,642.6 1223.6,642.2 1218.8,641.8 1214.1,641.5 1209.4,641.1 1204.6,640.8 1199.9,640.5 1195.2,640.2 1190.4,639.9 1185.7,639.6 1180.9,639.3 1176.2,639.1 1171.5,638.8 1166.7,638.6 1162.0,638.4 1157.3,638.2 1152.5,637.9 1147.8,637.7 1143.1,637.6 1138.3,637.4 1133.6,637.2 1128.9,637.0 1124.1,636.9 1119.4,636.7 1114.7,636.6 1109.9,636.4 1105.2,636.3 1100.4,636.1 1095.7,636.0 1091.0,635.9 1086.2,635.8 1081.5,635.7 1076.8,635.5 1072.0,635.4 1067.3,635.3 1062.6,635.2 1057.8,635.1 1053.1,635.0 1048.4,634.9 1043.6,634.8 1038.9,634.7 1034.1,634.6 1029.4,634.5 1024.7,634.4 1019.9,634.3 1015.2,634.1 1010.5,634.0 1005.7,633.9 1001.0,633.8 996.3,633.7 991.5,633.6 986.8,633.4 982.1,633.3 977.3,633.2 972.6,633.0 967.9,632.9 963.1,632.8 958.4,632.6 953.6,632.5 948.9,632.3 944.2,632.2 939.4,632.0 934.7,631.9 930.0,631.7 925.2,631.5 920.5,631.4 915.8,631.2 911.0,631.0 906.3,630.9 901.6,630.7 896.8,630.5 892.1,630.4 887.3,630.2 882.6,630.0 877.9,629.8 873.1,629.7 868.4,629.5 863.7,629.4 858.9,629.2 854.2,629.0 849.5,628.9 844.7,628.8 840.0,628.6 835.3,628.5 830.5,628.4 825.8,628.3 821.0,628.2 816.3,628.1 811.6,628.0 806.8,628.0 802.1,627.9 797.4,627.9 792.6,627.9 787.9,627.9 783.2,627.9 778.4,628.0 773.7,628.0 769.0,628.2 764.2,628.3 759.5,628.5 754.8,628.7 750.0,628.9 745.3,629.2 740.5,629.5 735.8,629.8 731.1,630.2 726.3,630.7 721.6,631.2 716.9,631.7 712.1,632.3 707.4,632.9 702.7,633.6 697.9,634.3 693.2,635.1 688.5,636.0 683.7,636.9 679.0,637.9 674.2,638.9 669.5,640.0 664.8,641.2 660.0,642.4 655.3,643.7 650.6,645.1 645.8,646.6 641.1,648.1 636.4,649.7 631.6,651.4 626.9,653.2 622.2,655.0 617.4,657.0 612.7,659.0 608.0,661.1 603.2,663.3 598.5,665.6 593.7,668.0 589.0,670.4 584.3,673.0 579.5,675.6 574.8,678.3 570.1,681.1 565.3,684.0 560.6,687.0 555.9,690.1 551.1,693.3 546.4,696.5 541.7,699.9 536.9,703.4 532.2,706.9 527.4,710.6 522.7,714.3 518.0,718.2 513.2,722.1 508.5,726.2 503.8,730.4 499.0,734.6 494.3,739.0 489.6,743.5 484.8,748.2 480.1,752.9 475.4,757.8 470.6,762.7 465.9,767.8 461.2,773.1 456.4,778.4 451.7,783.9 446.9,789.5 442.2,795.3 437.5,801.2 432.7,807.2 428.0,813.3 423.3,819.6 418.5,825.9 413.8,832.4 409.1,839.0 404.3,845.6 399.6,852.3 394.9,859.1 390.1,866.0 385.4,872.9 380.6,879.9 375.9,887.0 371.2,894.0 366.4,901.1 361.7,908.3 357.0,915.4 352.2,922.6 347.5,929.8"/>
<polyline id="Lcyan" points="347.5,880.2 352.2,873.1 357.0,866.1 361.7,859.0 366.4,852.0 371.2,845.0 375.9,838.1 380.6,831.2 385.4,824.3 390.1,817.5 394.9,810.8 399.6,804.1 404.3,797.5 409.1,791.0 413.8,784.5 418.5,778.2 423.3,772.0 428.0,765.9 432.7,759.9 437.5,754.0 442.2,748.3 446.9,742.7 451.7,737.2 456.4,731.9 461.2,726.7 465.9,721.6 470.6,716.7 475.4,711.9 480.1,707.2 484.8,702.6 489.6,698.2 494.3,693.9 499.0,689.7 503.8,685.6 508.5,681.6 513.2,677.7 518.0,674.0 522.7,670.3 527.4,666.8 532.2,663.3 536.9,660.0 541.7,656.7 546.4,653.6 551.1,650.5 555.9,647.5 560.6,644.7 565.3,641.9 570.1,639.2 574.8,636.6 579.5,634.1 584.3,631.7 589.0,629.4 593.7,627.1 598.5,625.0 603.2,622.9 608.0,620.9 612.7,619.0 617.4,617.2 622.2,615.4 626.9,613.8 631.6,612.2 636.4,610.7 641.1,609.3 645.8,607.9 650.6,606.6 655.3,605.4 660.0,604.2 664.8,603.1 669.5,602.1 674.2,601.2 679.0,600.3 683.7,599.4 688.5,598.6 693.2,597.9 697.9,597.2 702.7,596.6 707.4,596.0 712.1,595.4 716.9,594.9 721.6,594.5 726.3,594.1 731.1,593.7 735.8,593.3 740.5,593.0 745.3,592.7 750.0,592.5 754.8,592.3 759.5,592.1 764.2,591.9 769.0,591.7 773.7,591.6 778.4,591.5 783.2,591.4 787.9,591.4 792.6,591.3 797.4,591.3 802.1,591.3 806.8,591.3 811.6,591.3 816.3,591.3 821.0,591.3 825.8,591.4 830.5,591.4 835.3,591.4 840.0,591.5 844.7,591.5 849.5,591.6 854.2,591.6 858.9,591.7 863.7,591.7 868.4,591.8 873.1,591.8 877.9,591.9 882.6,591.9 887.3,592.0 892.1,592.0 896.8,592.1 901.6,592.1 906.3,592.2 911.0,592.2 915.8,592.2 920.5,592.3 925.2,592.3 930.0,592.3 934.7,592.3 939.4,592.3 944.2,592.3 948.9,592.3 953.6,592.3 958.4,592.3 963.1,592.3 967.9,592.4 972.6,592.4 977.3,592.4 982.1,592.4 986.8,592.4 991.5,592.4 996.3,592.4 1001.0,592.4 1005.7,592.4 1010.5,592.5 1015.2,592.5 1019.9,592.5 1024.7,592.6 1029.4,592.6 1034.1,592.7 1038.9,592.7 1043.6,592.8 1048.4,592.9 1053.1,593.0 1057.8,593.1 1062.6,593.2 1067.3,593.3 1072.0,593.4 1076.8,593.6 1081.5,593.7 1086.2,593.9 1091.0,594.1 1095.7,594.2 1100.4,594.4 1105.2,594.6 1109.9,594.9 1114.7,595.1 1119.4,595.4 1124.1,595.6 1128.9,595.9 1133.6,596.2 1138.3,596.5 1143.1,596.8 1147.8,597.1 1152.5,597.4 1157.3,597.8 1162.0,598.1 1166.7,598.5 1171.5,598.9 1176.2,599.3 1180.9,599.7 1185.7,600.1 1190.4,600.6 1195.2,601.0 1199.9,601.4 1204.6,601.9 1209.4,602.4 1214.1,602.9 1218.8,603.4 1223.6,603.9 1228.3,604.4 1233.0,604.9 1237.8,605.4 1242.5,605.9 1247.2,606.4 1252.0,606.9 1256.7,607.5 1261.5,608.0 1266.2,608.5 1270.9,609.0 1275.7,609.5 1280.4,610.0 1285.1,610.5 1289.9,611.0 1294.6,611.5 1299.3,611.9 1304.1,612.4 1308.8,612.8 1313.5,613.3 1318.3,613.7 1323.0,614.1 1327.7,614.5 1332.5,614.9 1337.2,615.3 1342.0,615.7 1346.7,616.0 1351.4,616.4 1356.2,616.7 1360.9,617.0 1365.6,617.3 1370.4,617.6 1375.1,617.9 1379.8,618.1 1384.6,618.4 1389.3,618.6 1394.0,618.8 1398.8,619.0 1403.5,619.2 1408.3,619.4 1413.0,619.6 1417.7,619.7 1422.5,619.9 1427.2,620.0 1431.9,620.1 1436.7,620.2 1441.4,620.3 1446.1,620.4 1450.9,620.4 1455.6,620.5 1460.3,620.5 1465.1,620.6 1469.8,620.6 1474.5,620.6 1479.3,620.6 1484.0,620.6 1488.8,620.5 1493.5,620.5 1498.2,620.5 1503.0,620.4 1507.7,620.3 1512.4,620.3 1517.2,620.2 1521.9,620.1 1526.6,620.0 1531.4,619.8 1536.1,619.7 1540.8,619.6 1545.6,619.4 1550.3,619.3 1555.1,619.1 1559.8,618.9 1564.5,618.8 1569.3,618.6 1574.0,618.4 1578.7,618.2 1583.5,617.9 1588.2,617.7 1592.9,617.5 1597.7,617.2 1602.4,617.0 1607.1,616.8 1611.9,616.5 1616.6,616.3 1621.3,616.0 1626.1,615.8 1630.8,615.5 1635.6,615.3 1640.3,615.0 1645.0,614.8 1649.8,614.6 1654.5,614.4 1659.2,614.1 1664.0,613.9 1668.7,613.7 1673.4,613.5 1678.2,613.4 1682.9,613.2 1687.6,613.0 1692.4,612.9 1697.1,612.8 1701.9,612.7 1706.6,612.6 1711.3,612.5 1716.1,612.4 1720.8,612.3 1725.5,612.3 1730.3,612.2 1735.0,612.2 1739.7,612.2 1744.5,612.2 1749.2,612.2 1753.9,612.3 1758.7,612.3 1763.4,612.4 1768.2,612.5 1772.9,612.6 1777.6,612.7 1782.4,612.8 1787.1,612.9 1791.8,613.1 1796.6,613.3 1801.3,613.4 1806.0,613.6 1810.8,613.8 1815.5,614.0 1820.2,614.2 1825.0,614.4 1829.7,614.7 1834.4,614.9 1839.2,615.1 1843.9,615.4 1848.7,615.6 1853.4,615.9 1858.1,616.1 1862.9,616.3 1864.4,616.4" fill="none" stroke-width="15" stroke-linejoin="round"/>
<clipPath id="ccyan"><use href="#Rcyan"/></clipPath>
<polygon id="Rblue" points="347.5,970.3 352.2,969.1 357.0,967.8 361.7,966.6 366.4,965.3 371.2,964.1 375.9,962.8 380.6,961.5 385.4,960.3 390.1,959.0 394.9,957.8 399.6,956.5 404.3,955.3 409.1,954.0 413.8,952.7 418.5,951.5 423.3,950.2 428.0,949.0 432.7,947.7 437.5,946.5 442.2,945.2 446.9,944.0 451.7,942.7 456.4,941.5 461.2,940.2 465.9,939.0 470.6,937.8 475.4,936.5 480.1,935.3 484.8,934.0 489.6,932.8 494.3,931.5 499.0,930.3 503.8,929.0 508.5,927.8 513.2,926.5 518.0,925.3 522.7,924.0 527.4,922.8 532.2,921.5 536.9,920.2 541.7,919.0 546.4,917.7 551.1,916.4 555.9,915.2 560.6,913.9 565.3,912.6 570.1,911.3 574.8,910.0 579.5,908.7 584.3,907.4 589.0,906.1 593.7,904.8 598.5,903.4 603.2,902.1 608.0,900.7 612.7,899.4 617.4,898.0 622.2,896.6 626.9,895.2 631.6,893.8 636.4,892.4 641.1,891.0 645.8,889.6 650.6,888.1 655.3,886.7 660.0,885.2 664.8,883.7 669.5,882.3 674.2,880.8 679.0,879.3 683.7,877.8 688.5,876.2 693.2,874.7 697.9,873.2 702.7,871.7 707.4,870.1 712.1,868.6 716.9,867.0 721.6,865.5 726.3,863.9 731.1,862.3 735.8,860.8 740.5,859.2 745.3,857.6 750.0,856.0 754.8,854.4 759.5,852.9 764.2,851.3 769.0,849.7 773.7,848.2 778.4,846.6 783.2,845.1 787.9,843.5 792.6,842.0 797.4,840.5 802.1,838.9 806.8,837.4 811.6,835.9 816.3,834.5 821.0,833.0 825.8,831.5 830.5,830.1 835.3,828.7 840.0,827.3 844.7,825.9 849.5,824.5 854.2,823.2 858.9,821.8 863.7,820.5 868.4,819.2 873.1,817.9 877.9,816.6 882.6,815.3 887.3,814.0 892.1,812.8 896.8,811.6 901.6,810.4 906.3,809.2 911.0,808.0 915.8,806.8 920.5,805.7 925.2,804.5 930.0,803.4 934.7,802.3 939.4,801.2 944.2,800.1 948.9,799.0 953.6,797.9 958.4,796.9 963.1,795.9 967.9,794.8 972.6,793.8 977.3,792.8 982.1,791.8 986.8,790.8 991.5,789.9 996.3,788.9 1001.0,788.0 1005.7,787.0 1010.5,786.1 1015.2,785.2 1019.9,784.2 1024.7,783.3 1029.4,782.4 1034.1,781.5 1038.9,780.7 1043.6,779.8 1048.4,778.9 1053.1,778.1 1057.8,777.2 1062.6,776.4 1067.3,775.6 1072.0,774.7 1076.8,773.9 1081.5,773.1 1086.2,772.3 1091.0,771.5 1095.7,770.7 1100.4,769.9 1105.2,769.1 1109.9,768.4 1114.7,767.6 1119.4,766.9 1124.1,766.1 1128.9,765.4 1133.6,764.6 1138.3,763.9 1143.1,763.2 1147.8,762.4 1152.5,761.7 1157.3,761.0 1162.0,760.3 1166.7,759.6 1171.5,758.9 1176.2,758.2 1180.9,757.5 1185.7,756.9 1190.4,756.2 1195.2,755.5 1199.9,754.8 1204.6,754.2 1209.4,753.5 1214.1,752.9 1218.8,752.2 1223.6,751.6 1228.3,751.0 1233.0,750.3 1237.8,749.7 1242.5,749.1 1247.2,748.5 1252.0,747.8 1256.7,747.2 1261.5,746.6 1266.2,746.0 1270.9,745.4 1275.7,744.8 1280.4,744.3 1285.1,743.7 1289.9,743.1 1294.6,742.5 1299.3,742.0 1304.1,741.4 1308.8,740.8 1313.5,740.3 1318.3,739.7 1323.0,739.2 1327.7,738.6 1332.5,738.1 1337.2,737.5 1342.0,736.9 1346.7,736.4 1351.4,735.8 1356.2,735.3 1360.9,734.7 1365.6,734.1 1370.4,733.6 1375.1,733.0 1379.8,732.4 1384.6,731.8 1389.3,731.2 1394.0,730.6 1398.8,730.0 1403.5,729.4 1408.3,728.8 1413.0,728.1 1417.7,727.5 1422.5,726.9 1427.2,726.2 1431.9,725.6 1436.7,724.9 1441.4,724.2 1446.1,723.6 1450.9,722.9 1455.6,722.2 1460.3,721.5 1465.1,720.8 1469.8,720.1 1474.5,719.4 1479.3,718.6 1484.0,717.9 1488.8,717.2 1493.5,716.4 1498.2,715.7 1503.0,714.9 1507.7,714.2 1512.4,713.4 1517.2,712.7 1521.9,711.9 1526.6,711.1 1531.4,710.4 1536.1,709.6 1540.8,708.8 1545.6,708.1 1550.3,707.3 1555.1,706.5 1559.8,705.8 1564.5,705.0 1569.3,704.2 1574.0,703.5 1578.7,702.7 1583.5,702.0 1588.2,701.2 1592.9,700.5 1597.7,699.8 1602.4,699.1 1607.1,698.3 1611.9,697.6 1616.6,696.9 1621.3,696.2 1626.1,695.5 1630.8,694.8 1635.6,694.1 1640.3,693.4 1645.0,692.8 1649.8,692.1 1654.5,691.4 1659.2,690.8 1664.0,690.1 1668.7,689.5 1673.4,688.8 1678.2,688.2 1682.9,687.6 1687.6,687.0 1692.4,686.4 1697.1,685.8 1701.9,685.2 1706.6,684.6 1711.3,684.0 1716.1,683.4 1720.8,682.8 1725.5,682.3 1730.3,681.7 1735.0,681.1 1739.7,680.6 1744.5,680.1 1749.2,679.5 1753.9,679.0 1758.7,678.5 1763.4,677.9 1768.2,677.4 1772.9,676.9 1777.6,676.4 1782.4,675.9 1787.1,675.4 1791.8,675.0 1796.6,674.5 1801.3,674.0 1806.0,673.5 1810.8,673.1 1815.5,672.6 1820.2,672.1 1825.0,671.7 1829.7,671.2 1834.4,670.7 1839.2,670.3 1843.9,669.8 1848.7,669.4 1853.4,668.9 1858.1,668.5 1862.9,668.0 1862.9,770.2 1858.1,770.4 1853.4,770.7 1848.7,770.9 1843.9,771.2 1839.2,771.5 1834.4,771.7 1829.7,772.0 1825.0,772.2 1820.2,772.5 1815.5,772.7 1810.8,773.0 1806.0,773.3 1801.3,773.6 1796.6,773.8 1791.8,774.1 1787.1,774.4 1782.4,774.7 1777.6,775.0 1772.9,775.3 1768.2,775.6 1763.4,775.9 1758.7,776.3 1753.9,776.6 1749.2,776.9 1744.5,777.3 1739.7,777.6 1735.0,778.0 1730.3,778.3 1725.5,778.7 1720.8,779.1 1716.1,779.5 1711.3,779.8 1706.6,780.2 1701.9,780.6 1697.1,781.0 1692.4,781.5 1687.6,781.9 1682.9,782.3 1678.2,782.7 1673.4,783.2 1668.7,783.6 1664.0,784.0 1659.2,784.5 1654.5,785.0 1649.8,785.4 1645.0,785.9 1640.3,786.4 1635.6,786.8 1630.8,787.3 1626.1,787.8 1621.3,788.3 1616.6,788.8 1611.9,789.3 1607.1,789.8 1602.4,790.3 1597.7,790.8 1592.9,791.3 1588.2,791.9 1583.5,792.4 1578.7,792.9 1574.0,793.4 1569.3,793.9 1564.5,794.5 1559.8,795.0 1555.1,795.5 1550.3,796.1 1545.6,796.6 1540.8,797.1 1536.1,797.7 1531.4,798.2 1526.6,798.7 1521.9,799.3 1517.2,799.8 1512.4,800.4 1507.7,800.9 1503.0,801.4 1498.2,802.0 1493.5,802.5 1488.8,803.1 1484.0,803.6 1479.3,804.1 1474.5,804.7 1469.8,805.2 1465.1,805.7 1460.3,806.2 1455.6,806.8 1450.9,807.3 1446.1,807.8 1441.4,808.3 1436.7,808.9 1431.9,809.4 1427.2,809.9 1422.5,810.4 1417.7,810.9 1413.0,811.4 1408.3,812.0 1403.5,812.5 1398.8,813.0 1394.0,813.5 1389.3,814.0 1384.6,814.5 1379.8,815.0 1375.1,815.5 1370.4,816.0 1365.6,816.5 1360.9,816.9 1356.2,817.4 1351.4,817.9 1346.7,818.4 1342.0,818.9 1337.2,819.4 1332.5,819.9 1327.7,820.4 1323.0,820.8 1318.3,821.3 1313.5,821.8 1308.8,822.3 1304.1,822.8 1299.3,823.3 1294.6,823.8 1289.9,824.3 1285.1,824.7 1280.4,825.2 1275.7,825.7 1270.9,826.2 1266.2,826.7 1261.5,827.2 1256.7,827.7 1252.0,828.2 1247.2,828.7 1242.5,829.2 1237.8,829.8 1233.0,830.3 1228.3,830.8 1223.6,831.3 1218.8,831.8 1214.1,832.4 1209.4,832.9 1204.6,833.4 1199.9,833.9 1195.2,834.5 1190.4,835.0 1185.7,835.6 1180.9,836.1 1176.2,836.7 1171.5,837.2 1166.7,837.8 1162.0,838.4 1157.3,838.9 1152.5,839.5 1147.8,840.1 1143.1,840.7 1138.3,841.3 1133.6,842.0 1128.9,842.6 1124.1,843.2 1119.4,843.9 1114.7,844.5 1109.9,845.2 1105.2,845.8 1100.4,846.5 1095.7,847.2 1091.0,847.9 1086.2,848.7 1081.5,849.4 1076.8,850.1 1072.0,850.9 1067.3,851.6 1062.6,852.4 1057.8,853.2 1053.1,854.0 1048.4,854.8 1043.6,855.6 1038.9,856.4 1034.1,857.3 1029.4,858.1 1024.7,859.0 1019.9,859.9 1015.2,860.8 1010.5,861.7 1005.7,862.6 1001.0,863.5 996.3,864.4 991.5,865.3 986.8,866.3 982.1,867.3 977.3,868.2 972.6,869.2 967.9,870.2 963.1,871.2 958.4,872.2 953.6,873.2 948.9,874.2 944.2,875.3 939.4,876.3 934.7,877.4 930.0,878.4 925.2,879.5 920.5,880.6 915.8,881.6 911.0,882.7 906.3,883.8 901.6,884.9 896.8,886.0 892.1,887.1 887.3,888.2 882.6,889.3 877.9,890.5 873.1,891.6 868.4,892.7 863.7,893.9 858.9,895.0 854.2,896.2 849.5,897.4 844.7,898.5 840.0,899.7 835.3,900.9 830.5,902.0 825.8,903.2 821.0,904.4 816.3,905.6 811.6,906.8 806.8,908.0 802.1,909.2 797.4,910.5 792.6,911.7 787.9,912.9 783.2,914.2 778.4,915.4 773.7,916.7 769.0,917.9 764.2,919.2 759.5,920.5 754.8,921.8 750.0,923.1 745.3,924.4 740.5,925.7 735.8,927.0 731.1,928.4 726.3,929.7 721.6,931.1 716.9,932.5 712.1,933.9 707.4,935.3 702.7,936.7 697.9,938.1 693.2,939.5 688.5,941.0 683.7,942.5 679.0,944.0 674.2,945.5 669.5,947.0 664.8,948.6 660.0,950.1 655.3,951.7 650.6,953.3 645.8,954.9 641.1,956.6 636.4,958.3 631.6,960.0 626.9,961.7 622.2,963.4 617.4,965.2 612.7,967.0 608.0,968.8 603.2,970.6 598.5,972.5 593.7,974.3 589.0,976.2 584.3,978.1 579.5,980.1 574.8,982.0 570.1,984.0 565.3,986.0 560.6,988.0 555.9,990.0 551.1,992.1 546.4,994.1 541.7,996.2 536.9,998.3 532.2,1000.4 527.4,1002.5 522.7,1004.6 518.0,1006.8 513.2,1009.0 508.5,1011.1 503.8,1013.3 499.0,1015.5 494.3,1017.7 489.6,1020.0 484.8,1022.2 480.1,1024.4 475.4,1026.7 470.6,1029.0 465.9,1031.2 461.2,1033.5 456.4,1035.8 451.7,1038.1 446.9,1040.4 442.2,1042.7 437.5,1045.0 432.7,1047.3 428.0,1049.7 423.3,1052.0 418.5,1054.3 413.8,1056.7 409.1,1059.0 404.3,1061.4 399.6,1063.7 394.9,1066.1 390.1,1068.4 385.4,1070.8 380.6,1073.1 375.9,1075.5 371.2,1077.9 366.4,1080.2 361.7,1082.6 357.0,1085.0 352.2,1087.4 347.5,1089.7"/>
<polyline id="Lblue" points="347.5,1031.1 352.2,1029.5 357.0,1027.8 361.7,1026.1 366.4,1024.5 371.2,1022.8 375.9,1021.1 380.6,1019.5 385.4,1017.8 390.1,1016.1 394.9,1014.5 399.6,1012.8 404.3,1011.1 409.1,1009.4 413.8,1007.8 418.5,1006.1 423.3,1004.4 428.0,1002.7 432.7,1001.0 437.5,999.3 442.2,997.7 446.9,996.0 451.7,994.3 456.4,992.6 461.2,990.9 465.9,989.2 470.6,987.5 475.4,985.8 480.1,984.1 484.8,982.4 489.6,980.7 494.3,979.0 499.0,977.3 503.8,975.6 508.5,973.9 513.2,972.2 518.0,970.5 522.7,968.8 527.4,967.1 532.2,965.4 536.9,963.7 541.7,962.0 546.4,960.3 551.1,958.6 555.9,956.9 560.6,955.2 565.3,953.6 570.1,951.9 574.8,950.2 579.5,948.5 584.3,946.9 589.0,945.2 593.7,943.5 598.5,941.9 603.2,940.2 608.0,938.5 612.7,936.9 617.4,935.2 622.2,933.6 626.9,931.9 631.6,930.3 636.4,928.7 641.1,927.0 645.8,925.4 650.6,923.7 655.3,922.1 660.0,920.5 664.8,918.9 669.5,917.3 674.2,915.7 679.0,914.1 683.7,912.5 688.5,910.9 693.2,909.3 697.9,907.7 702.7,906.2 707.4,904.6 712.1,903.1 716.9,901.5 721.6,900.0 726.3,898.5 731.1,897.0 735.8,895.5 740.5,894.0 745.3,892.5 750.0,891.0 754.8,889.6 759.5,888.1 764.2,886.7 769.0,885.3 773.7,883.8 778.4,882.4 783.2,881.0 787.9,879.6 792.6,878.2 797.4,876.8 802.1,875.5 806.8,874.1 811.6,872.7 816.3,871.4 821.0,870.0 825.8,868.7 830.5,867.4 835.3,866.1 840.0,864.7 844.7,863.4 849.5,862.1 854.2,860.8 858.9,859.6 863.7,858.3 868.4,857.0 873.1,855.8 877.9,854.5 882.6,853.3 887.3,852.1 892.1,850.9 896.8,849.7 901.6,848.5 906.3,847.3 911.0,846.1 915.8,845.0 920.5,843.8 925.2,842.7 930.0,841.5 934.7,840.4 939.4,839.3 944.2,838.2 948.9,837.2 953.6,836.1 958.4,835.0 963.1,834.0 967.9,833.0 972.6,832.0 977.3,830.9 982.1,830.0 986.8,829.0 991.5,828.0 996.3,827.0 1001.0,826.1 1005.7,825.2 1010.5,824.3 1015.2,823.4 1019.9,822.5 1024.7,821.6 1029.4,820.7 1034.1,819.9 1038.9,819.0 1043.6,818.2 1048.4,817.4 1053.1,816.5 1057.8,815.7 1062.6,814.9 1067.3,814.2 1072.0,813.4 1076.8,812.6 1081.5,811.9 1086.2,811.2 1091.0,810.4 1095.7,809.7 1100.4,809.0 1105.2,808.3 1109.9,807.6 1114.7,806.9 1119.4,806.2 1124.1,805.6 1128.9,804.9 1133.6,804.2 1138.3,803.6 1143.1,802.9 1147.8,802.3 1152.5,801.7 1157.3,801.0 1162.0,800.4 1166.7,799.8 1171.5,799.2 1176.2,798.6 1180.9,798.0 1185.7,797.4 1190.4,796.8 1195.2,796.2 1199.9,795.6 1204.6,795.0 1209.4,794.4 1214.1,793.9 1218.8,793.3 1223.6,792.7 1228.3,792.1 1233.0,791.6 1237.8,791.0 1242.5,790.4 1247.2,789.8 1252.0,789.3 1256.7,788.7 1261.5,788.2 1266.2,787.6 1270.9,787.0 1275.7,786.5 1280.4,785.9 1285.1,785.4 1289.9,784.8 1294.6,784.2 1299.3,783.7 1304.1,783.1 1308.8,782.6 1313.5,782.0 1318.3,781.5 1323.0,780.9 1327.7,780.4 1332.5,779.8 1337.2,779.2 1342.0,778.7 1346.7,778.1 1351.4,777.6 1356.2,777.0 1360.9,776.4 1365.6,775.9 1370.4,775.3 1375.1,774.7 1379.8,774.2 1384.6,773.6 1389.3,773.0 1394.0,772.5 1398.8,771.9 1403.5,771.3 1408.3,770.7 1413.0,770.1 1417.7,769.5 1422.5,769.0 1427.2,768.4 1431.9,767.8 1436.7,767.2 1441.4,766.6 1446.1,766.0 1450.9,765.4 1455.6,764.8 1460.3,764.2 1465.1,763.5 1469.8,762.9 1474.5,762.3 1479.3,761.7 1484.0,761.1 1488.8,760.5 1493.5,759.8 1498.2,759.2 1503.0,758.6 1507.7,758.0 1512.4,757.4 1517.2,756.7 1521.9,756.1 1526.6,755.5 1531.4,754.9 1536.1,754.2 1540.8,753.6 1545.6,753.0 1550.3,752.4 1555.1,751.7 1559.8,751.1 1564.5,750.5 1569.3,749.9 1574.0,749.3 1578.7,748.7 1583.5,748.1 1588.2,747.5 1592.9,746.9 1597.7,746.3 1602.4,745.7 1607.1,745.1 1611.9,744.5 1616.6,743.9 1621.3,743.3 1626.1,742.8 1630.8,742.2 1635.6,741.6 1640.3,741.1 1645.0,740.5 1649.8,739.9 1654.5,739.4 1659.2,738.8 1664.0,738.3 1668.7,737.8 1673.4,737.2 1678.2,736.7 1682.9,736.2 1687.6,735.6 1692.4,735.1 1697.1,734.6 1701.9,734.1 1706.6,733.6 1711.3,733.1 1716.1,732.6 1720.8,732.1 1725.5,731.6 1730.3,731.2 1735.0,730.7 1739.7,730.2 1744.5,729.8 1749.2,729.3 1753.9,728.9 1758.7,728.4 1763.4,728.0 1768.2,727.6 1772.9,727.2 1777.6,726.8 1782.4,726.4 1787.1,726.0 1791.8,725.6 1796.6,725.2 1801.3,724.8 1806.0,724.4 1810.8,724.1 1815.5,723.7 1820.2,723.3 1825.0,723.0 1829.7,722.6 1834.4,722.3 1839.2,721.9 1843.9,721.5 1848.7,721.2 1853.4,720.9 1858.1,720.5 1862.9,720.2 1864.4,720.0" fill="none" stroke-width="15" stroke-linejoin="round"/>
<clipPath id="cblue"><use href="#Rblue"/></clipPath>
<polygon id="Rpink" points="347.5,1029.4 352.2,1030.4 357.0,1031.4 361.7,1032.4 366.4,1033.4 371.2,1034.4 375.9,1035.4 380.6,1036.4 385.4,1037.3 390.1,1038.3 394.9,1039.3 399.6,1040.2 404.3,1041.2 409.1,1042.1 413.8,1043.1 418.5,1044.0 423.3,1044.9 428.0,1045.8 432.7,1046.7 437.5,1047.6 442.2,1048.5 446.9,1049.3 451.7,1050.2 456.4,1051.0 461.2,1051.8 465.9,1052.6 470.6,1053.4 475.4,1054.2 480.1,1054.9 484.8,1055.6 489.6,1056.3 494.3,1057.0 499.0,1057.7 503.8,1058.4 508.5,1059.0 513.2,1059.6 518.0,1060.2 522.7,1060.8 527.4,1061.3 532.2,1061.8 536.9,1062.3 541.7,1062.8 546.4,1063.2 551.1,1063.6 555.9,1064.0 560.6,1064.4 565.3,1064.7 570.1,1065.0 574.8,1065.3 579.5,1065.5 584.3,1065.8 589.0,1065.9 593.7,1066.1 598.5,1066.2 603.2,1066.3 608.0,1066.4 612.7,1066.4 617.4,1066.4 622.2,1066.4 626.9,1066.4 631.6,1066.3 636.4,1066.1 641.1,1066.0 645.8,1065.8 650.6,1065.6 655.3,1065.3 660.0,1065.0 664.8,1064.7 669.5,1064.3 674.2,1064.0 679.0,1063.5 683.7,1063.1 688.5,1062.6 693.2,1062.1 697.9,1061.6 702.7,1061.0 707.4,1060.4 712.1,1059.8 716.9,1059.2 721.6,1058.5 726.3,1057.8 731.1,1057.1 735.8,1056.3 740.5,1055.6 745.3,1054.8 750.0,1053.9 754.8,1053.1 759.5,1052.2 764.2,1051.3 769.0,1050.4 773.7,1049.4 778.4,1048.5 783.2,1047.5 787.9,1046.4 792.6,1045.4 797.4,1044.3 802.1,1043.3 806.8,1042.2 811.6,1041.0 816.3,1039.9 821.0,1038.7 825.8,1037.6 830.5,1036.4 835.3,1035.1 840.0,1033.9 844.7,1032.7 849.5,1031.4 854.2,1030.1 858.9,1028.8 863.7,1027.5 868.4,1026.2 873.1,1024.8 877.9,1023.5 882.6,1022.1 887.3,1020.7 892.1,1019.3 896.8,1017.9 901.6,1016.5 906.3,1015.1 911.0,1013.7 915.8,1012.2 920.5,1010.8 925.2,1009.3 930.0,1007.9 934.7,1006.4 939.4,1005.0 944.2,1003.5 948.9,1002.0 953.6,1000.5 958.4,999.1 963.1,997.6 967.9,996.1 972.6,994.6 977.3,993.1 982.1,991.7 986.8,990.2 991.5,988.7 996.3,987.2 1001.0,985.7 1005.7,984.3 1010.5,982.8 1015.2,981.3 1019.9,979.9 1024.7,978.4 1029.4,977.0 1034.1,975.6 1038.9,974.1 1043.6,972.7 1048.4,971.3 1053.1,969.9 1057.8,968.5 1062.6,967.1 1067.3,965.7 1072.0,964.4 1076.8,963.0 1081.5,961.7 1086.2,960.3 1091.0,959.0 1095.7,957.7 1100.4,956.4 1105.2,955.2 1109.9,953.9 1114.7,952.7 1119.4,951.5 1124.1,950.3 1128.9,949.1 1133.6,947.9 1138.3,946.7 1143.1,945.6 1147.8,944.5 1152.5,943.3 1157.3,942.2 1162.0,941.1 1166.7,940.1 1171.5,939.0 1176.2,938.0 1180.9,936.9 1185.7,935.9 1190.4,934.9 1195.2,933.9 1199.9,933.0 1204.6,932.0 1209.4,931.1 1214.1,930.1 1218.8,929.2 1223.6,928.3 1228.3,927.4 1233.0,926.5 1237.8,925.7 1242.5,924.8 1247.2,924.0 1252.0,923.1 1256.7,922.3 1261.5,921.5 1266.2,920.7 1270.9,919.9 1275.7,919.2 1280.4,918.4 1285.1,917.7 1289.9,916.9 1294.6,916.2 1299.3,915.5 1304.1,914.8 1308.8,914.1 1313.5,913.4 1318.3,912.8 1323.0,912.1 1327.7,911.5 1332.5,910.8 1337.2,910.2 1342.0,909.6 1346.7,909.0 1351.4,908.4 1356.2,907.9 1360.9,907.3 1365.6,906.8 1370.4,906.2 1375.1,905.7 1379.8,905.2 1384.6,904.7 1389.3,904.2 1394.0,903.7 1398.8,903.2 1403.5,902.8 1408.3,902.3 1413.0,901.9 1417.7,901.5 1422.5,901.1 1427.2,900.7 1431.9,900.3 1436.7,899.9 1441.4,899.5 1446.1,899.2 1450.9,898.8 1455.6,898.5 1460.3,898.1 1465.1,897.8 1469.8,897.5 1474.5,897.2 1479.3,896.9 1484.0,896.6 1488.8,896.3 1493.5,896.0 1498.2,895.7 1503.0,895.4 1507.7,895.2 1512.4,894.9 1517.2,894.7 1521.9,894.5 1526.6,894.2 1531.4,894.0 1536.1,893.8 1540.8,893.6 1545.6,893.4 1550.3,893.2 1555.1,893.0 1559.8,892.9 1564.5,892.7 1569.3,892.6 1574.0,892.4 1578.7,892.3 1583.5,892.2 1588.2,892.1 1592.9,891.9 1597.7,891.8 1602.4,891.8 1607.1,891.7 1611.9,891.6 1616.6,891.5 1621.3,891.5 1626.1,891.4 1630.8,891.4 1635.6,891.4 1640.3,891.4 1645.0,891.4 1649.8,891.4 1654.5,891.4 1659.2,891.4 1664.0,891.4 1668.7,891.5 1673.4,891.5 1678.2,891.6 1682.9,891.7 1687.6,891.7 1692.4,891.8 1697.1,891.9 1701.9,892.0 1706.6,892.2 1711.3,892.3 1716.1,892.4 1720.8,892.6 1725.5,892.7 1730.3,892.9 1735.0,893.1 1739.7,893.3 1744.5,893.5 1749.2,893.7 1753.9,893.9 1758.7,894.1 1763.4,894.3 1768.2,894.6 1772.9,894.8 1777.6,895.1 1782.4,895.3 1787.1,895.6 1791.8,895.9 1796.6,896.2 1801.3,896.4 1806.0,896.7 1810.8,897.0 1815.5,897.4 1820.2,897.7 1825.0,898.0 1829.7,898.3 1834.4,898.6 1839.2,898.9 1843.9,899.3 1848.7,899.6 1853.4,899.9 1858.1,900.3 1862.9,900.6 1862.9,1085.3 1858.1,1084.8 1853.4,1084.3 1848.7,1083.9 1843.9,1083.4 1839.2,1082.9 1834.4,1082.4 1829.7,1081.9 1825.0,1081.5 1820.2,1081.0 1815.5,1080.5 1810.8,1080.1 1806.0,1079.6 1801.3,1079.1 1796.6,1078.7 1791.8,1078.2 1787.1,1077.7 1782.4,1077.3 1777.6,1076.8 1772.9,1076.4 1768.2,1076.0 1763.4,1075.5 1758.7,1075.1 1753.9,1074.7 1749.2,1074.2 1744.5,1073.8 1739.7,1073.4 1735.0,1073.0 1730.3,1072.6 1725.5,1072.2 1720.8,1071.8 1716.1,1071.4 1711.3,1071.0 1706.6,1070.6 1701.9,1070.3 1697.1,1069.9 1692.4,1069.5 1687.6,1069.2 1682.9,1068.8 1678.2,1068.5 1673.4,1068.1 1668.7,1067.8 1664.0,1067.4 1659.2,1067.1 1654.5,1066.8 1649.8,1066.5 1645.0,1066.2 1640.3,1065.8 1635.6,1065.5 1630.8,1065.3 1626.1,1065.0 1621.3,1064.7 1616.6,1064.4 1611.9,1064.1 1607.1,1063.9 1602.4,1063.6 1597.7,1063.4 1592.9,1063.1 1588.2,1062.9 1583.5,1062.7 1578.7,1062.5 1574.0,1062.3 1569.3,1062.1 1564.5,1061.9 1559.8,1061.7 1555.1,1061.5 1550.3,1061.3 1545.6,1061.2 1540.8,1061.0 1536.1,1060.9 1531.4,1060.8 1526.6,1060.6 1521.9,1060.5 1517.2,1060.4 1512.4,1060.3 1507.7,1060.2 1503.0,1060.1 1498.2,1060.1 1493.5,1060.0 1488.8,1059.9 1484.0,1059.9 1479.3,1059.9 1474.5,1059.8 1469.8,1059.8 1465.1,1059.8 1460.3,1059.8 1455.6,1059.8 1450.9,1059.8 1446.1,1059.9 1441.4,1059.9 1436.7,1060.0 1431.9,1060.0 1427.2,1060.1 1422.5,1060.1 1417.7,1060.2 1413.0,1060.3 1408.3,1060.4 1403.5,1060.5 1398.8,1060.6 1394.0,1060.8 1389.3,1060.9 1384.6,1061.0 1379.8,1061.2 1375.1,1061.3 1370.4,1061.5 1365.6,1061.7 1360.9,1061.9 1356.2,1062.0 1351.4,1062.2 1346.7,1062.5 1342.0,1062.7 1337.2,1062.9 1332.5,1063.1 1327.7,1063.4 1323.0,1063.6 1318.3,1063.9 1313.5,1064.2 1308.8,1064.5 1304.1,1064.8 1299.3,1065.1 1294.6,1065.4 1289.9,1065.7 1285.1,1066.0 1280.4,1066.4 1275.7,1066.7 1270.9,1067.1 1266.2,1067.5 1261.5,1067.8 1256.7,1068.2 1252.0,1068.6 1247.2,1069.1 1242.5,1069.5 1237.8,1069.9 1233.0,1070.4 1228.3,1070.9 1223.6,1071.4 1218.8,1071.8 1214.1,1072.4 1209.4,1072.9 1204.6,1073.4 1199.9,1074.0 1195.2,1074.5 1190.4,1075.1 1185.7,1075.7 1180.9,1076.3 1176.2,1076.9 1171.5,1077.5 1166.7,1078.2 1162.0,1078.9 1157.3,1079.5 1152.5,1080.2 1147.8,1080.9 1143.1,1081.6 1138.3,1082.3 1133.6,1083.1 1128.9,1083.8 1124.1,1084.6 1119.4,1085.3 1114.7,1086.1 1109.9,1086.9 1105.2,1087.7 1100.4,1088.5 1095.7,1089.3 1091.0,1090.2 1086.2,1091.0 1081.5,1091.8 1076.8,1092.7 1072.0,1093.6 1067.3,1094.5 1062.6,1095.3 1057.8,1096.2 1053.1,1097.1 1048.4,1098.1 1043.6,1099.0 1038.9,1099.9 1034.1,1100.8 1029.4,1101.8 1024.7,1102.7 1019.9,1103.7 1015.2,1104.6 1010.5,1105.6 1005.7,1106.6 1001.0,1107.6 996.3,1108.5 991.5,1109.5 986.8,1110.5 982.1,1111.5 977.3,1112.5 972.6,1113.5 967.9,1114.5 963.1,1115.5 958.4,1116.5 953.6,1117.5 948.9,1118.5 944.2,1119.5 939.4,1120.5 934.7,1121.5 930.0,1122.5 925.2,1123.5 920.5,1124.5 915.8,1125.5 911.0,1126.5 906.3,1127.5 901.6,1128.4 896.8,1129.4 892.1,1130.4 887.3,1131.3 882.6,1132.3 877.9,1133.3 873.1,1134.2 868.4,1135.2 863.7,1136.1 858.9,1137.0 854.2,1138.0 849.5,1138.9 844.7,1139.8 840.0,1140.7 835.3,1141.6 830.5,1142.5 825.8,1143.4 821.0,1144.3 816.3,1145.1 811.6,1146.0 806.8,1146.9 802.1,1147.7 797.4,1148.6 792.6,1149.4 787.9,1150.2 783.2,1151.1 778.4,1151.9 773.7,1152.7 769.0,1153.5 764.2,1154.3 759.5,1155.1 754.8,1155.9 750.0,1156.7 745.3,1157.4 740.5,1158.2 735.8,1158.9 731.1,1159.7 726.3,1160.4 721.6,1161.2 716.9,1161.9 712.1,1162.6 707.4,1163.3 702.7,1164.0 697.9,1164.7 693.2,1165.4 688.5,1166.1 683.7,1166.8 679.0,1167.5 674.2,1168.2 669.5,1168.9 664.8,1169.6 660.0,1170.3 655.3,1170.9 650.6,1171.6 645.8,1172.3 641.1,1173.0 636.4,1173.7 631.6,1174.4 626.9,1175.1 622.2,1175.8 617.4,1176.6 612.7,1177.3 608.0,1178.0 603.2,1178.7 598.5,1179.5 593.7,1180.2 589.0,1181.0 584.3,1181.7 579.5,1182.5 574.8,1183.3 570.1,1184.1 565.3,1184.9 560.6,1185.7 555.9,1186.5 551.1,1187.3 546.4,1188.1 541.7,1189.0 536.9,1189.8 532.2,1190.7 527.4,1191.6 522.7,1192.5 518.0,1193.4 513.2,1194.3 508.5,1195.2 503.8,1196.1 499.0,1197.1 494.3,1198.0 489.6,1199.0 484.8,1200.0 480.1,1200.9 475.4,1201.9 470.6,1202.9 465.9,1204.0 461.2,1205.0 456.4,1206.0 451.7,1207.1 446.9,1208.2 442.2,1209.2 437.5,1210.3 432.7,1211.4 428.0,1212.5 423.3,1213.6 418.5,1214.8 413.8,1215.9 409.1,1217.1 404.3,1218.2 399.6,1219.4 394.9,1220.5 390.1,1221.7 385.4,1222.9 380.6,1224.0 375.9,1225.2 371.2,1226.4 366.4,1227.6 361.7,1228.8 357.0,1230.0 352.2,1231.2 347.5,1232.4"/>
<polyline id="Lpink" points="347.5,1130.5 352.2,1130.5 357.0,1130.4 361.7,1130.4 366.4,1130.4 371.2,1130.3 375.9,1130.3 380.6,1130.3 385.4,1130.2 390.1,1130.2 394.9,1130.1 399.6,1130.1 404.3,1130.1 409.1,1130.0 413.8,1130.0 418.5,1129.9 423.3,1129.9 428.0,1129.8 432.7,1129.8 437.5,1129.7 442.2,1129.7 446.9,1129.6 451.7,1129.6 456.4,1129.5 461.2,1129.4 465.9,1129.4 470.6,1129.3 475.4,1129.2 480.1,1129.1 484.8,1129.0 489.6,1129.0 494.3,1128.8 499.0,1128.7 503.8,1128.6 508.5,1128.5 513.2,1128.4 518.0,1128.2 522.7,1128.1 527.4,1127.9 532.2,1127.7 536.9,1127.5 541.7,1127.3 546.4,1127.1 551.1,1126.9 555.9,1126.6 560.6,1126.4 565.3,1126.1 570.1,1125.9 574.8,1125.6 579.5,1125.3 584.3,1125.0 589.0,1124.6 593.7,1124.3 598.5,1124.0 603.2,1123.6 608.0,1123.2 612.7,1122.9 617.4,1122.5 622.2,1122.1 626.9,1121.6 631.6,1121.2 636.4,1120.8 641.1,1120.3 645.8,1119.9 650.6,1119.4 655.3,1118.9 660.0,1118.4 664.8,1117.9 669.5,1117.3 674.2,1116.8 679.0,1116.2 683.7,1115.7 688.5,1115.1 693.2,1114.5 697.9,1113.9 702.7,1113.2 707.4,1112.6 712.1,1111.9 716.9,1111.2 721.6,1110.5 726.3,1109.8 731.1,1109.1 735.8,1108.4 740.5,1107.6 745.3,1106.8 750.0,1106.0 754.8,1105.2 759.5,1104.4 764.2,1103.6 769.0,1102.7 773.7,1101.8 778.4,1101.0 783.2,1100.0 787.9,1099.1 792.6,1098.2 797.4,1097.2 802.1,1096.3 806.8,1095.3 811.6,1094.2 816.3,1093.2 821.0,1092.2 825.8,1091.1 830.5,1090.0 835.3,1089.0 840.0,1087.8 844.7,1086.7 849.5,1085.6 854.2,1084.4 858.9,1083.3 863.7,1082.1 868.4,1080.9 873.1,1079.7 877.9,1078.5 882.6,1077.3 887.3,1076.1 892.1,1074.9 896.8,1073.7 901.6,1072.5 906.3,1071.2 911.0,1070.0 915.8,1068.8 920.5,1067.5 925.2,1066.3 930.0,1065.1 934.7,1063.8 939.4,1062.6 944.2,1061.4 948.9,1060.1 953.6,1058.9 958.4,1057.7 963.1,1056.4 967.9,1055.2 972.6,1054.0 977.3,1052.8 982.1,1051.6 986.8,1050.4 991.5,1049.2 996.3,1048.0 1001.0,1046.8 1005.7,1045.6 1010.5,1044.4 1015.2,1043.2 1019.9,1042.1 1024.7,1040.9 1029.4,1039.8 1034.1,1038.6 1038.9,1037.5 1043.6,1036.4 1048.4,1035.3 1053.1,1034.2 1057.8,1033.1 1062.6,1032.0 1067.3,1030.9 1072.0,1029.8 1076.8,1028.7 1081.5,1027.7 1086.2,1026.6 1091.0,1025.6 1095.7,1024.6 1100.4,1023.5 1105.2,1022.5 1109.9,1021.5 1114.7,1020.5 1119.4,1019.5 1124.1,1018.6 1128.9,1017.6 1133.6,1016.6 1138.3,1015.7 1143.1,1014.8 1147.8,1013.8 1152.5,1012.9 1157.3,1012.0 1162.0,1011.1 1166.7,1010.2 1171.5,1009.3 1176.2,1008.5 1180.9,1007.6 1185.7,1006.8 1190.4,1005.9 1195.2,1005.1 1199.9,1004.3 1204.6,1003.5 1209.4,1002.7 1214.1,1001.9 1218.8,1001.1 1223.6,1000.4 1228.3,999.6 1233.0,998.9 1237.8,998.1 1242.5,997.4 1247.2,996.7 1252.0,996.0 1256.7,995.4 1261.5,994.7 1266.2,994.1 1270.9,993.4 1275.7,992.8 1280.4,992.2 1285.1,991.6 1289.9,991.1 1294.6,990.5 1299.3,990.0 1304.1,989.5 1308.8,989.0 1313.5,988.5 1318.3,988.0 1323.0,987.5 1327.7,987.1 1332.5,986.7 1337.2,986.3 1342.0,985.9 1346.7,985.5 1351.4,985.1 1356.2,984.8 1360.9,984.4 1365.6,984.1 1370.4,983.8 1375.1,983.5 1379.8,983.2 1384.6,982.9 1389.3,982.6 1394.0,982.4 1398.8,982.1 1403.5,981.9 1408.3,981.6 1413.0,981.4 1417.7,981.2 1422.5,981.0 1427.2,980.8 1431.9,980.7 1436.7,980.5 1441.4,980.4 1446.1,980.2 1450.9,980.1 1455.6,979.9 1460.3,979.8 1465.1,979.7 1469.8,979.6 1474.5,979.5 1479.3,979.4 1484.0,979.3 1488.8,979.2 1493.5,979.2 1498.2,979.1 1503.0,979.0 1507.7,979.0 1512.4,978.9 1517.2,978.9 1521.9,978.9 1526.6,978.8 1531.4,978.8 1536.1,978.8 1540.8,978.8 1545.6,978.8 1550.3,978.8 1555.1,978.8 1559.8,978.8 1564.5,978.9 1569.3,978.9 1574.0,979.0 1578.7,979.0 1583.5,979.1 1588.2,979.1 1592.9,979.2 1597.7,979.3 1602.4,979.4 1607.1,979.5 1611.9,979.6 1616.6,979.7 1621.3,979.8 1626.1,979.9 1630.8,980.1 1635.6,980.2 1640.3,980.4 1645.0,980.5 1649.8,980.7 1654.5,980.8 1659.2,981.0 1664.0,981.2 1668.7,981.4 1673.4,981.6 1678.2,981.8 1682.9,982.0 1687.6,982.2 1692.4,982.4 1697.1,982.6 1701.9,982.8 1706.6,983.1 1711.3,983.3 1716.1,983.6 1720.8,983.8 1725.5,984.1 1730.3,984.3 1735.0,984.6 1739.7,984.9 1744.5,985.2 1749.2,985.5 1753.9,985.8 1758.7,986.1 1763.4,986.4 1768.2,986.7 1772.9,987.1 1777.6,987.4 1782.4,987.8 1787.1,988.1 1791.8,988.5 1796.6,988.8 1801.3,989.2 1806.0,989.6 1810.8,990.0 1815.5,990.3 1820.2,990.7 1825.0,991.1 1829.7,991.5 1834.4,991.9 1839.2,992.3 1843.9,992.7 1848.7,993.1 1853.4,993.5 1858.1,993.9 1862.9,994.3 1864.4,994.5" fill="none" stroke-width="15" stroke-linejoin="round"/>
<clipPath id="cpink"><use href="#Rpink"/></clipPath>
</defs>
<g fill="#9B9B9B" fill-opacity="0.4">
<use href="#Rred"/>
<use href="#Rgold"/>
<use href="#Rgreen"/>
<use href="#Rcyan"/>
<use href="#Rblue"/>
<use href="#Rpink"/>
</g>
<use href="#Lred" stroke="#FF746C"/>
<g clip-path="url(#cgold)"><use href="#Lred" stroke="#EC887E"/></g>
<g clip-path="url(#cgreen)"><use href="#Lred" stroke="#EC887E"/></g>
<g clip-path="url(#ccyan)"><use href="#Lred" stroke="#EC887E"/></g>
<g clip-path="url(#cgreen)"><g clip-path="url(#cgold)"><use href="#Lred" stroke="#CC908A"/></g></g>
<g clip-path="url(#ccyan)"><g clip-path="url(#cgold)"><use href="#Lred" stroke="#CC908A"/></g></g>
<g clip-path="url(#ccyan)"><g clip-path="url(#cgreen)"><use href="#Lred" stroke="#CC908A"/></g></g>
<g clip-path="url(#ccyan)"><g clip-path="url(#cgreen)"><g clip-path="url(#cgold)"><use href="#Lred" stroke="#B89491"/></g></g></g>
<use href="#Lgold" stroke="#C0A11D"/>
<g clip-path="url(#cgreen)"><use href="#Lgold" stroke="#B19D58"/></g>
<g clip-path="url(#ccyan)"><use href="#Lgold" stroke="#B19D58"/></g>
<g clip-path="url(#ccyan)"><g clip-path="url(#cgreen)"><use href="#Lgold" stroke="#A89C73"/></g></g>
<use href="#Lgreen" stroke="#00B140"/>
<g clip-path="url(#ccyan)"><use href="#Lgreen" stroke="#3EA864"/></g>
<use href="#Lcyan" stroke="#00BCC4"/>
<use href="#Lblue" stroke="#5B95CF"/>
<g clip-path="url(#cpink)"><use href="#Lblue" stroke="#7597BA"/></g>
<use href="#Lpink" stroke="#E570B0"/>
<g font-family="Liberation Sans, Arial, Helvetica, sans-serif" fill="#000" stroke="#000" stroke-width="0.5">
<text transform="translate(347.5,1384.0) scale(1,1.03)" font-size="76.6" text-anchor="middle">20</text>
<text transform="translate(726.3,1384.0) scale(1,1.03)" font-size="76.6" text-anchor="middle">40</text>
<text transform="translate(1105.2,1384.0) scale(1,1.03)" font-size="76.6" text-anchor="middle">60</text>
<text transform="translate(1484.0,1384.0) scale(1,1.03)" font-size="76.6" text-anchor="middle">80</text>
<text transform="translate(1863.8,1384.0) scale(1,1.03)" font-size="76.6" text-anchor="middle">100</text>
<text transform="translate(229.6,342.2) scale(1,1.03)" font-size="76.6" text-anchor="end">80</text>
<text transform="translate(229.6,730.1) scale(1,1.03)" font-size="76.6" text-anchor="end">70</text>
<text transform="translate(229.6,1118.0) scale(1,1.03)" font-size="76.6" text-anchor="end">60</text>
<text transform="translate(1940.2,1513.2) scale(1,1.03)" font-size="89.2" text-anchor="end">Age</text>
<text transform="translate(98.2,136.2) rotate(-90) scale(1,1.03)" font-size="88.9" text-anchor="end">HDR of Dominant Trees</text>
<text transform="translate(314.8,1800.2) scale(1,1.03)" font-size="89.2" text-anchor="start">Forest Vegetation Zone</text>
<rect x="1284.1" y="1675.2" width="92.80" height="185.3" fill="#D7D7D7" stroke="none"/>
<rect x="1293.0" y="1714.0" width="75.10" height="15" fill="#FF746C" stroke="none"/>
<rect x="1293.0" y="1807.0" width="75.10" height="15" fill="#C0A11D" stroke="none"/>
<text transform="translate(1442.0,1749.8) scale(1,1.03)" font-size="76.6" text-anchor="middle">2</text>
<text transform="translate(1442.0,1842.4) scale(1,1.03)" font-size="76.6" text-anchor="middle">3</text>
<rect x="1508.15" y="1675.2" width="91.65" height="185.3" fill="#D7D7D7" stroke="none"/>
<rect x="1516.8" y="1714.0" width="74.30" height="15" fill="#00B140" stroke="none"/>
<rect x="1516.8" y="1807.0" width="74.30" height="15" fill="#00BCC4" stroke="none"/>
<text transform="translate(1664.7,1749.8) scale(1,1.03)" font-size="76.6" text-anchor="middle">4</text>
<text transform="translate(1664.7,1842.4) scale(1,1.03)" font-size="76.6" text-anchor="middle">5</text>
<rect x="1731.0" y="1675.2" width="92.90" height="185.3" fill="#D7D7D7" stroke="none"/>
<rect x="1740.9" y="1714.0" width="74.10" height="15" fill="#5B95CF" stroke="none"/>
<rect x="1740.9" y="1807.0" width="74.10" height="15" fill="#E570B0" stroke="none"/>
<text transform="translate(1889.3,1749.8) scale(1,1.03)" font-size="76.6" text-anchor="middle">6</text>
<text transform="translate(1889.3,1842.4) scale(1,1.03)" font-size="76.6" text-anchor="middle">7</text>
</g>
</svg>
</body></html>
